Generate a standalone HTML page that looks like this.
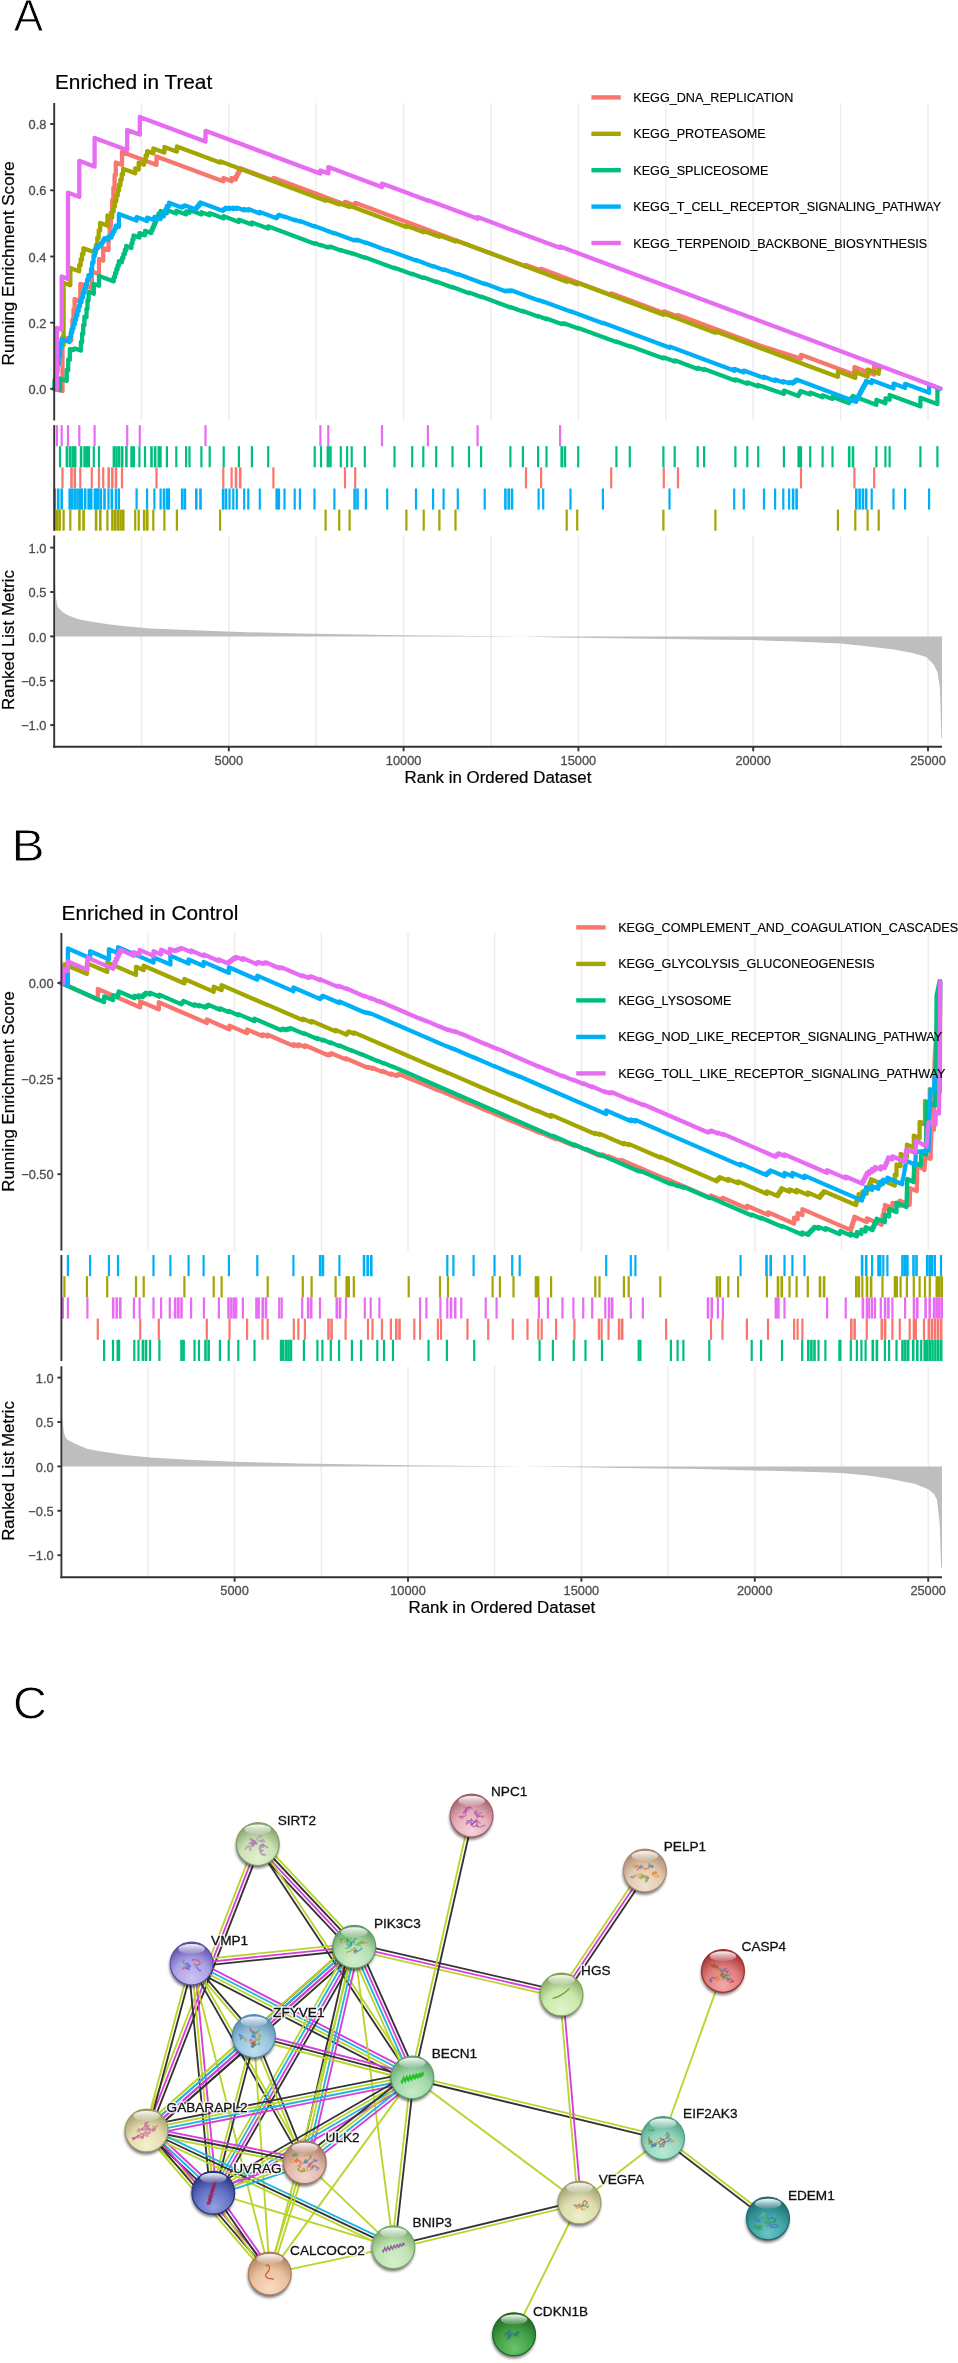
<!DOCTYPE html><html><head><meta charset="utf-8"><style>html,body{margin:0;padding:0;background:#fff;width:958px;height:2363px;overflow:hidden}svg{display:block;will-change:transform;filter:blur(0.35px)}</style></head><body><svg width="958" height="2363" viewBox="0 0 958 2363">
<rect width="958" height="2363" fill="#fff"/>
<text x="0" y="0" font-size="44.0" fill="#000" stroke="#fff" stroke-width="0.8" font-family="Liberation Sans, sans-serif" transform="translate(13.7,31.0) scale(1.000,1)">A</text>
<text x="55.0" y="89.3" font-size="20.8" fill="#000" text-anchor="start" font-family="Liberation Sans, sans-serif" stroke="#000" stroke-width="0.2">Enriched in Treat</text>
<line x1="141.4" y1="103.0" x2="141.4" y2="420.5" stroke="#EBEBEB" stroke-width="1.4"/>
<line x1="141.4" y1="535.5" x2="141.4" y2="746.8" stroke="#EBEBEB" stroke-width="1.4"/>
<line x1="228.8" y1="103.0" x2="228.8" y2="420.5" stroke="#EBEBEB" stroke-width="1.4"/>
<line x1="228.8" y1="535.5" x2="228.8" y2="746.8" stroke="#EBEBEB" stroke-width="1.4"/>
<line x1="316.2" y1="103.0" x2="316.2" y2="420.5" stroke="#EBEBEB" stroke-width="1.4"/>
<line x1="316.2" y1="535.5" x2="316.2" y2="746.8" stroke="#EBEBEB" stroke-width="1.4"/>
<line x1="403.6" y1="103.0" x2="403.6" y2="420.5" stroke="#EBEBEB" stroke-width="1.4"/>
<line x1="403.6" y1="535.5" x2="403.6" y2="746.8" stroke="#EBEBEB" stroke-width="1.4"/>
<line x1="491.0" y1="103.0" x2="491.0" y2="420.5" stroke="#EBEBEB" stroke-width="1.4"/>
<line x1="491.0" y1="535.5" x2="491.0" y2="746.8" stroke="#EBEBEB" stroke-width="1.4"/>
<line x1="578.4" y1="103.0" x2="578.4" y2="420.5" stroke="#EBEBEB" stroke-width="1.4"/>
<line x1="578.4" y1="535.5" x2="578.4" y2="746.8" stroke="#EBEBEB" stroke-width="1.4"/>
<line x1="665.8" y1="103.0" x2="665.8" y2="420.5" stroke="#EBEBEB" stroke-width="1.4"/>
<line x1="665.8" y1="535.5" x2="665.8" y2="746.8" stroke="#EBEBEB" stroke-width="1.4"/>
<line x1="753.2" y1="103.0" x2="753.2" y2="420.5" stroke="#EBEBEB" stroke-width="1.4"/>
<line x1="753.2" y1="535.5" x2="753.2" y2="746.8" stroke="#EBEBEB" stroke-width="1.4"/>
<line x1="840.6" y1="103.0" x2="840.6" y2="420.5" stroke="#EBEBEB" stroke-width="1.4"/>
<line x1="840.6" y1="535.5" x2="840.6" y2="746.8" stroke="#EBEBEB" stroke-width="1.4"/>
<line x1="928.0" y1="103.0" x2="928.0" y2="420.5" stroke="#EBEBEB" stroke-width="1.4"/>
<line x1="928.0" y1="535.5" x2="928.0" y2="746.8" stroke="#EBEBEB" stroke-width="1.4"/>
<polygon points="55.3,636.4 55.3,578.7 56.0,597.5 56.9,603.8 58.1,607.6 62.5,612.0 67.5,615.1 75.0,618.1 81.3,619.7 87.6,621.0 93.8,621.9 100.1,623.1 110.0,624.4 125.2,626.3 150.3,628.4 187.9,630.1 225.4,631.4 240.0,632.0 300.0,633.5 403.6,635.2 480.0,636.1 520.0,636.4 560.0,637.4 650.0,638.7 720.0,639.7 753.0,640.1 794.5,641.6 840.5,643.4 869.0,646.6 894.0,649.6 913.8,653.3 926.2,657.1 933.7,664.5 937.4,671.9 939.9,687.0 940.8,716.2 941.3,737.5 942.0,738.4 942.0,636.4" fill="#BEBEBE"/>
<polyline points="54.0,388.8 62.2,391.0 62.5,391.1 62.5,336.9 71.0,340.1 71.3,340.2 71.3,329.6 72.4,330.0 72.4,319.4 73.5,319.8 73.5,309.2 74.6,309.6 74.6,299.0 80.0,301.0 80.3,301.1 80.3,283.8 91.5,288.0 91.8,288.1 91.8,271.4 98.7,274.0 99.0,274.1 99.0,259.0 102.9,260.5 103.2,260.6 103.2,248.1 108.2,250.0 108.5,250.1 108.5,237.2 109.7,237.7 109.7,224.8 110.9,225.2 110.9,212.3 112.2,212.8 112.2,199.9 113.4,200.3 113.4,187.4 114.6,187.9 114.6,175.0 115.8,175.4 115.8,162.5 121.7,164.7 122.0,164.8 122.0,152.0 156.2,164.8 156.5,164.9 156.5,156.4 223.0,181.2 223.3,181.3 223.3,178.1 231.6,181.2 231.6,177.9 235.8,179.5 235.8,176.3 237.2,176.8 237.2,173.6 238.6,174.1 238.6,170.8 240.0,171.4 240.0,168.1 241.0,168.5 270.0,179.3 273.4,180.6 273.4,177.8 345.0,204.5 345.0,201.8 355.2,205.6 355.2,202.8 520.0,264.3 526.0,266.5 526.0,264.9 541.1,270.5 541.1,268.8 611.2,295.0 611.2,293.3 663.8,312.9 663.8,311.3 678.0,316.6 678.0,314.9 760.0,345.5 800.7,358.5 801.0,358.6 801.0,354.8 854.0,374.6 854.4,374.7 854.4,367.1 874.0,374.4 874.2,374.5 874.2,366.0 876.5,366.9" fill="none" stroke="#F8766D" stroke-width="4.3" stroke-linejoin="round" stroke-linecap="round"/>
<polyline points="54.0,388.8 54.3,389.0 54.6,389.1 54.6,379.6 55.8,380.1 55.8,370.6 57.0,371.0 57.0,361.5 58.2,362.0 58.2,352.5 59.4,352.9 59.4,343.4 61.0,344.0 63.6,345.0 63.6,282.8 69.5,285.0 70.3,285.3 70.3,267.9 78.5,271.0 79.2,271.3 79.2,265.1 80.6,265.6 80.6,259.5 82.0,260.0 82.0,253.8 83.4,254.3 83.4,248.2 95.0,252.5 95.9,252.8 95.9,245.0 97.3,245.5 97.3,237.6 98.7,238.1 98.7,230.3 100.1,230.8 100.1,222.9 106.5,225.3 107.4,225.6 107.4,215.5 111.5,217.0 112.2,217.3 112.2,211.4 113.6,211.9 113.6,206.1 114.9,206.6 114.9,200.8 116.3,201.3 116.3,195.4 117.7,195.9 117.7,190.1 119.0,190.6 119.0,184.7 120.4,185.3 120.4,179.4 121.7,179.9 121.7,174.1 123.1,174.6 123.1,168.7 134.5,173.0 135.2,173.3 135.2,168.3 138.3,169.5 138.7,169.6 138.7,162.7 143.5,164.5 144.0,164.7 144.0,159.8 145.6,160.3 145.6,155.4 147.1,156.0 147.1,151.1 152.8,153.2 153.3,153.4 153.3,148.5 164.0,152.5 164.4,152.6 164.4,147.0 176.5,151.5 176.9,151.6 176.9,146.5 219.8,162.5 220.1,162.6 220.1,161.3 325.6,200.7 325.6,199.4 339.2,204.5 339.2,203.2 349.6,207.1 349.6,205.8 406.4,227.0 406.4,225.7 423.7,232.2 423.7,230.9 439.4,236.8 439.4,235.5 455.5,241.5 455.5,240.2 520.0,264.3 566.7,281.7 566.7,280.2 577.2,284.2 577.2,282.7 663.4,314.8 663.4,313.3 715.4,332.7 715.4,331.3 760.0,347.9 837.5,376.7 837.9,376.8 837.9,371.3 855.0,377.7 855.3,377.8 855.3,372.1 867.3,376.6 867.6,376.7 867.6,369.6 878.4,373.6 878.7,373.7 878.7,369.2 879.5,369.5" fill="none" stroke="#A3A500" stroke-width="4.3" stroke-linejoin="round" stroke-linecap="round"/>
<polyline points="54.0,388.8 59.7,390.0 60.0,390.1 60.0,378.4 66.4,380.8 66.7,380.9 66.7,369.9 68.2,370.5 68.2,359.5 69.8,360.1 69.8,349.1 72.2,350.0 72.5,350.1 72.5,349.2 73.8,349.7 73.8,348.8 75.0,349.3 75.0,348.4 80.6,350.5 80.9,350.6 80.9,341.8 82.1,342.2 82.1,333.4 83.2,333.9 83.2,325.0 84.4,325.5 84.4,316.7 86.5,317.4 86.5,308.6 87.5,309.0 87.5,300.2 88.6,300.6 88.6,291.8 93.5,293.6 93.8,293.7 93.8,283.9 99.0,285.8 99.0,275.9 113.4,281.3 113.7,281.4 113.7,277.0 115.0,277.4 115.0,273.0 116.3,273.5 116.3,269.0 117.6,269.5 117.6,265.1 118.9,265.5 118.9,261.1 122.0,262.2 122.0,257.8 123.4,258.3 123.4,253.9 124.8,254.4 124.8,249.9 126.2,250.5 126.2,246.0 131.4,247.9 131.4,243.5 132.4,243.9 132.4,239.4 133.5,239.8 133.5,235.4 139.4,237.6 139.4,233.1 145.0,235.2 145.0,230.8 151.0,233.0 151.3,233.1 151.3,229.9 152.5,230.4 152.5,227.2 153.7,227.6 153.7,224.4 154.9,224.9 154.9,221.6 156.2,222.1 156.2,218.9 157.4,219.4 157.4,216.1 158.6,216.6 158.6,213.4 160.6,214.1 160.6,210.9 166.9,213.3 166.9,210.1 167.5,210.3 176.3,213.6 176.3,210.7 186.1,214.4 186.1,211.5 189.5,212.8 189.5,210.0 190.4,210.3 201.4,214.4 201.4,212.2 209.7,215.3 209.7,213.2 215.4,215.3 223.7,218.4 223.7,216.2 238.9,221.9 238.9,219.7 251.9,224.6 251.9,222.4 268.2,228.5 268.2,226.3 270.0,227.0 314.7,243.7 314.7,243.1 321.0,245.4 321.0,244.9 327.7,247.4 327.7,246.8 328.9,247.3 328.9,246.7 330.2,247.2 330.2,246.6 340.8,250.5 340.8,250.0 347.1,252.3 347.1,251.7 351.7,253.5 351.7,252.9 364.8,257.8 364.8,257.2 394.5,268.3 394.5,267.7 412.2,274.3 412.2,273.7 423.3,277.9 423.3,277.3 436.2,282.1 436.2,281.5 452.5,287.6 452.5,287.0 469.0,293.2 469.0,292.6 481.1,297.1 481.1,296.6 510.4,307.5 510.4,306.9 520.0,310.5 522.9,311.6 522.9,311.0 538.1,316.6 538.1,316.0 546.5,319.2 546.5,318.5 561.5,324.1 561.5,323.5 563.1,324.1 563.1,323.5 564.7,324.1 564.7,323.5 578.2,328.5 578.2,327.9 616.4,342.1 616.4,341.5 629.8,346.5 629.8,345.9 663.0,358.3 663.4,358.4 663.4,357.3 674.7,361.5 674.7,360.3 697.7,368.9 697.7,367.8 704.1,370.1 704.1,369.0 735.0,380.5 735.4,380.6 735.4,379.3 747.3,383.7 747.3,382.3 758.2,386.4 758.2,385.0 760.0,385.7 783.5,393.8 783.9,393.9 783.9,390.6 798.3,396.0 798.5,396.1 798.5,394.1 799.5,394.5 799.5,392.5 800.6,392.9 800.6,391.0 810.2,394.5 810.2,392.6 822.6,397.2 822.6,395.2 832.5,398.9 832.5,397.0 848.7,403.0 849.0,403.1 849.0,401.0 850.3,401.4 850.3,399.3 851.5,399.8 851.5,397.6 852.8,398.1 852.8,396.0 876.2,404.7 876.4,404.8 876.4,399.8 885.4,403.2 885.4,398.3 889.6,399.8 889.6,394.9 920.2,406.3 920.4,406.4 920.4,397.7 937.2,404.0 937.4,404.1 937.4,388.9 939.0,389.5" fill="none" stroke="#00BF7D" stroke-width="4.3" stroke-linejoin="round" stroke-linecap="round"/>
<polyline points="54.0,388.8 54.3,389.0 54.6,389.1 54.6,380.3 56.0,380.9 56.0,372.1 57.4,372.6 57.4,363.8 58.7,364.3 58.7,355.6 60.1,356.1 60.1,347.3 61.5,347.8 61.5,339.0 69.2,341.9 69.5,342.0 69.5,337.1 70.8,337.6 70.8,332.6 72.1,333.1 72.1,328.2 73.4,328.7 73.4,323.8 74.8,324.2 74.8,319.3 76.1,319.8 76.1,314.9 77.4,315.4 77.4,310.4 78.7,310.9 78.7,306.0 80.0,306.5 80.0,301.5 81.5,302.1 81.5,297.2 82.9,297.7 82.9,292.8 84.3,293.3 84.3,288.4 85.7,288.9 85.7,283.9 87.1,284.5 87.1,279.5 88.5,280.1 88.5,275.1 89.5,275.5 91.0,276.1 91.0,269.0 92.2,269.4 92.2,262.3 93.5,262.8 93.5,255.7 94.7,256.2 94.7,249.1 95.8,249.5 96.4,249.7 96.4,247.3 98.0,247.9 98.0,245.5 100.6,246.4 100.6,244.0 101.8,244.5 101.8,242.1 103.1,242.5 103.1,240.1 104.3,240.6 104.3,238.1 108.2,239.6 108.5,239.7 108.5,236.3 111.6,237.5 111.6,234.1 113.0,234.6 113.0,231.3 114.4,231.8 114.4,228.4 115.8,228.9 115.8,225.6 118.6,226.6 118.9,226.7 118.9,214.0 136.3,220.5 136.6,220.6 136.6,217.1 147.1,221.0 147.1,217.6 154.4,220.3 154.4,216.8 160.3,219.0 160.6,219.1 160.6,215.2 163.8,216.4 163.8,212.5 165.4,213.1 165.4,209.1 166.9,209.7 166.9,205.8 169.0,206.6 169.0,202.7 181.7,207.4 182.0,207.5 182.0,206.4 183.3,206.9 183.3,205.8 184.7,206.3 184.7,205.3 195.8,209.4 196.1,209.5 196.1,207.3 197.5,207.9 197.5,205.7 198.9,206.2 198.9,204.0 200.3,204.6 200.3,202.4 222.6,210.7 222.9,210.8 222.9,209.4 224.4,210.0 224.4,208.6 225.8,209.1 225.8,207.7 229.5,209.1 229.5,207.7 233.3,209.1 233.3,207.7 236.8,209.0 236.8,207.6 244.2,210.4 244.2,209.0 248.3,210.5 248.3,209.1 259.8,213.4 259.8,212.0 276.5,218.2 276.5,216.8 277.6,217.2 277.6,215.8 278.6,216.2 278.6,214.8 280.0,215.3 284.5,217.0 284.5,216.4 294.7,220.2 294.7,219.7 299.9,221.6 299.9,221.1 314.5,226.6 314.5,226.0 334.4,233.4 334.4,232.9 354.4,240.4 354.4,239.8 355.9,240.4 355.9,239.8 357.3,240.4 357.3,239.8 365.9,243.0 365.9,242.5 387.2,250.4 387.2,249.9 416.0,260.6 416.0,260.1 433.1,266.5 433.1,265.9 443.6,269.9 443.6,269.3 457.8,274.6 457.8,274.1 484.7,284.1 484.7,283.6 505.2,291.2 505.2,290.7 506.5,291.2 506.5,290.6 507.8,291.1 507.8,290.6 509.2,291.1 509.2,290.5 510.5,291.0 510.5,290.5 511.8,291.0 511.8,290.4 520.0,293.5 538.6,300.4 538.6,300.0 543.2,301.8 543.2,301.4 570.5,311.5 570.5,311.2 602.9,323.2 602.9,322.8 666.6,346.6 669.5,347.7 669.5,346.6 733.9,370.6 734.2,370.7 734.2,368.8 743.8,372.4 743.8,370.6 760.0,376.6 764.0,378.1 764.0,376.7 775.1,380.9 775.1,379.5 783.3,382.5 783.3,381.2 785.5,382.0 789.1,383.3 789.1,382.1 792.9,383.5 792.9,382.2 794.1,382.6 794.1,381.3 795.2,381.8 795.2,380.5 796.4,380.9 796.4,379.6 855.8,401.8 856.1,401.9 856.1,399.2 857.3,399.6 857.3,396.9 858.6,397.4 858.6,394.6 859.8,395.1 859.8,392.4 861.0,392.8 861.0,390.1 862.3,390.5 862.3,387.8 863.5,388.3 863.5,385.5 864.8,386.0 864.8,383.3 866.0,383.7 866.0,381.0 871.4,383.0 871.7,383.1 871.7,380.2 893.2,388.2 893.5,388.3 893.5,383.6 904.8,387.8 905.1,387.9 905.1,383.8 928.8,392.6 929.1,392.7 929.1,384.5 940.5,388.8" fill="none" stroke="#00B0F6" stroke-width="4.3" stroke-linejoin="round" stroke-linecap="round"/>
<polyline points="54.0,388.8 56.5,389.5 56.9,389.6 56.9,327.9 61.3,329.5 61.7,329.6 61.7,276.5 67.5,278.7 68.0,278.9 68.0,192.7 79.0,196.8 79.3,196.9 79.3,160.8 94.2,166.4 94.6,166.5 94.6,137.9 127.0,150.0 127.2,150.1 127.2,129.9 139.6,134.5 139.8,134.6 139.8,117.0 205.3,141.4 205.5,141.5 205.5,130.8 320.0,173.5 320.4,173.6 320.4,170.4 328.0,173.2 328.3,173.3 328.3,167.1 381.7,187.0 382.0,187.1 382.0,183.6 427.6,200.6 427.9,200.7 427.9,200.2 477.3,218.6 477.6,218.7 477.6,217.1 559.8,247.8 560.1,247.9 560.1,246.5 940.5,388.4" fill="none" stroke="#E76BF3" stroke-width="4.3" stroke-linejoin="round" stroke-linecap="round"/>
<rect x="55.8" y="425.1" width="2.2" height="21.1" fill="#E76BF3"/>
<rect x="60.6" y="425.1" width="2.2" height="21.1" fill="#E76BF3"/>
<rect x="66.9" y="425.1" width="2.2" height="21.1" fill="#E76BF3"/>
<rect x="78.2" y="425.1" width="2.2" height="21.1" fill="#E76BF3"/>
<rect x="93.5" y="425.1" width="2.2" height="21.1" fill="#E76BF3"/>
<rect x="126.1" y="425.1" width="2.2" height="21.1" fill="#E76BF3"/>
<rect x="138.7" y="425.1" width="2.2" height="21.1" fill="#E76BF3"/>
<rect x="204.4" y="425.1" width="2.2" height="21.1" fill="#E76BF3"/>
<rect x="319.3" y="425.1" width="2.2" height="21.1" fill="#E76BF3"/>
<rect x="327.2" y="425.1" width="2.2" height="21.1" fill="#E76BF3"/>
<rect x="380.9" y="425.1" width="2.2" height="21.1" fill="#E76BF3"/>
<rect x="426.8" y="425.1" width="2.2" height="21.1" fill="#E76BF3"/>
<rect x="476.5" y="425.1" width="2.2" height="21.1" fill="#E76BF3"/>
<rect x="559.0" y="425.1" width="2.2" height="21.1" fill="#E76BF3"/>
<rect x="58.9" y="446.2" width="2.2" height="21.1" fill="#00BF7D"/>
<rect x="65.60" y="446.2" width="2.6" height="21.1" fill="#00BF7D"/>
<rect x="68.70" y="446.2" width="2.6" height="21.1" fill="#00BF7D"/>
<rect x="71.40" y="446.2" width="2.6" height="21.1" fill="#00BF7D"/>
<rect x="73.90" y="446.2" width="2.6" height="21.1" fill="#00BF7D"/>
<rect x="79.80" y="446.2" width="2.6" height="21.1" fill="#00BF7D"/>
<rect x="83.30" y="446.2" width="2.6" height="21.1" fill="#00BF7D"/>
<rect x="85.40" y="446.2" width="2.6" height="21.1" fill="#00BF7D"/>
<rect x="87.50" y="446.2" width="2.6" height="21.1" fill="#00BF7D"/>
<rect x="92.7" y="446.2" width="2.2" height="21.1" fill="#00BF7D"/>
<rect x="97.9" y="446.2" width="2.2" height="21.1" fill="#00BF7D"/>
<rect x="112.60" y="446.2" width="2.6" height="21.1" fill="#00BF7D"/>
<rect x="115.20" y="446.2" width="2.6" height="21.1" fill="#00BF7D"/>
<rect x="117.80" y="446.2" width="2.6" height="21.1" fill="#00BF7D"/>
<rect x="120.90" y="446.2" width="2.6" height="21.1" fill="#00BF7D"/>
<rect x="125.10" y="446.2" width="2.6" height="21.1" fill="#00BF7D"/>
<rect x="130.30" y="446.2" width="2.6" height="21.1" fill="#00BF7D"/>
<rect x="132.40" y="446.2" width="2.6" height="21.1" fill="#00BF7D"/>
<rect x="138.3" y="446.2" width="2.2" height="21.1" fill="#00BF7D"/>
<rect x="143.9" y="446.2" width="2.2" height="21.1" fill="#00BF7D"/>
<rect x="150.20" y="446.2" width="2.6" height="21.1" fill="#00BF7D"/>
<rect x="153.85" y="446.2" width="2.6" height="21.1" fill="#00BF7D"/>
<rect x="157.50" y="446.2" width="2.6" height="21.1" fill="#00BF7D"/>
<rect x="159.5" y="446.2" width="2.2" height="21.1" fill="#00BF7D"/>
<rect x="165.8" y="446.2" width="2.2" height="21.1" fill="#00BF7D"/>
<rect x="175.2" y="446.2" width="2.2" height="21.1" fill="#00BF7D"/>
<rect x="185.0" y="446.2" width="2.2" height="21.1" fill="#00BF7D"/>
<rect x="188.4" y="446.2" width="2.2" height="21.1" fill="#00BF7D"/>
<rect x="200.3" y="446.2" width="2.2" height="21.1" fill="#00BF7D"/>
<rect x="208.6" y="446.2" width="2.2" height="21.1" fill="#00BF7D"/>
<rect x="222.6" y="446.2" width="2.2" height="21.1" fill="#00BF7D"/>
<rect x="237.8" y="446.2" width="2.2" height="21.1" fill="#00BF7D"/>
<rect x="250.8" y="446.2" width="2.2" height="21.1" fill="#00BF7D"/>
<rect x="267.1" y="446.2" width="2.2" height="21.1" fill="#00BF7D"/>
<rect x="313.6" y="446.2" width="2.2" height="21.1" fill="#00BF7D"/>
<rect x="319.9" y="446.2" width="2.2" height="21.1" fill="#00BF7D"/>
<rect x="326.60" y="446.2" width="2.6" height="21.1" fill="#00BF7D"/>
<rect x="329.10" y="446.2" width="2.6" height="21.1" fill="#00BF7D"/>
<rect x="339.7" y="446.2" width="2.2" height="21.1" fill="#00BF7D"/>
<rect x="346.0" y="446.2" width="2.2" height="21.1" fill="#00BF7D"/>
<rect x="350.6" y="446.2" width="2.2" height="21.1" fill="#00BF7D"/>
<rect x="363.7" y="446.2" width="2.2" height="21.1" fill="#00BF7D"/>
<rect x="393.4" y="446.2" width="2.2" height="21.1" fill="#00BF7D"/>
<rect x="411.1" y="446.2" width="2.2" height="21.1" fill="#00BF7D"/>
<rect x="422.2" y="446.2" width="2.2" height="21.1" fill="#00BF7D"/>
<rect x="435.1" y="446.2" width="2.2" height="21.1" fill="#00BF7D"/>
<rect x="451.4" y="446.2" width="2.2" height="21.1" fill="#00BF7D"/>
<rect x="467.9" y="446.2" width="2.2" height="21.1" fill="#00BF7D"/>
<rect x="480.0" y="446.2" width="2.2" height="21.1" fill="#00BF7D"/>
<rect x="509.3" y="446.2" width="2.2" height="21.1" fill="#00BF7D"/>
<rect x="521.8" y="446.2" width="2.2" height="21.1" fill="#00BF7D"/>
<rect x="537.0" y="446.2" width="2.2" height="21.1" fill="#00BF7D"/>
<rect x="545.4" y="446.2" width="2.2" height="21.1" fill="#00BF7D"/>
<rect x="560.40" y="446.2" width="2.6" height="21.1" fill="#00BF7D"/>
<rect x="563.60" y="446.2" width="2.6" height="21.1" fill="#00BF7D"/>
<rect x="577.1" y="446.2" width="2.2" height="21.1" fill="#00BF7D"/>
<rect x="615.3" y="446.2" width="2.2" height="21.1" fill="#00BF7D"/>
<rect x="628.7" y="446.2" width="2.2" height="21.1" fill="#00BF7D"/>
<rect x="662.3" y="446.2" width="2.2" height="21.1" fill="#00BF7D"/>
<rect x="673.6" y="446.2" width="2.2" height="21.1" fill="#00BF7D"/>
<rect x="696.6" y="446.2" width="2.2" height="21.1" fill="#00BF7D"/>
<rect x="703.0" y="446.2" width="2.2" height="21.1" fill="#00BF7D"/>
<rect x="734.3" y="446.2" width="2.2" height="21.1" fill="#00BF7D"/>
<rect x="746.2" y="446.2" width="2.2" height="21.1" fill="#00BF7D"/>
<rect x="757.1" y="446.2" width="2.2" height="21.1" fill="#00BF7D"/>
<rect x="782.8" y="446.2" width="2.2" height="21.1" fill="#00BF7D"/>
<rect x="797.40" y="446.2" width="2.6" height="21.1" fill="#00BF7D"/>
<rect x="799.50" y="446.2" width="2.6" height="21.1" fill="#00BF7D"/>
<rect x="809.1" y="446.2" width="2.2" height="21.1" fill="#00BF7D"/>
<rect x="821.5" y="446.2" width="2.2" height="21.1" fill="#00BF7D"/>
<rect x="831.4" y="446.2" width="2.2" height="21.1" fill="#00BF7D"/>
<rect x="847.90" y="446.2" width="2.6" height="21.1" fill="#00BF7D"/>
<rect x="851.70" y="446.2" width="2.6" height="21.1" fill="#00BF7D"/>
<rect x="875.3" y="446.2" width="2.2" height="21.1" fill="#00BF7D"/>
<rect x="884.3" y="446.2" width="2.2" height="21.1" fill="#00BF7D"/>
<rect x="888.5" y="446.2" width="2.2" height="21.1" fill="#00BF7D"/>
<rect x="919.3" y="446.2" width="2.2" height="21.1" fill="#00BF7D"/>
<rect x="936.3" y="446.2" width="2.2" height="21.1" fill="#00BF7D"/>
<rect x="61.4" y="467.3" width="2.2" height="21.1" fill="#F8766D"/>
<rect x="70.20" y="467.3" width="2.6" height="21.1" fill="#F8766D"/>
<rect x="73.50" y="467.3" width="2.6" height="21.1" fill="#F8766D"/>
<rect x="79.2" y="467.3" width="2.2" height="21.1" fill="#F8766D"/>
<rect x="90.7" y="467.3" width="2.2" height="21.1" fill="#F8766D"/>
<rect x="97.9" y="467.3" width="2.2" height="21.1" fill="#F8766D"/>
<rect x="102.1" y="467.3" width="2.2" height="21.1" fill="#F8766D"/>
<rect x="107.40" y="467.3" width="2.6" height="21.1" fill="#F8766D"/>
<rect x="111.05" y="467.3" width="2.6" height="21.1" fill="#F8766D"/>
<rect x="114.70" y="467.3" width="2.6" height="21.1" fill="#F8766D"/>
<rect x="120.9" y="467.3" width="2.2" height="21.1" fill="#F8766D"/>
<rect x="155.4" y="467.3" width="2.2" height="21.1" fill="#F8766D"/>
<rect x="222.2" y="467.3" width="2.2" height="21.1" fill="#F8766D"/>
<rect x="230.5" y="467.3" width="2.2" height="21.1" fill="#F8766D"/>
<rect x="234.70" y="467.3" width="2.6" height="21.1" fill="#F8766D"/>
<rect x="238.90" y="467.3" width="2.6" height="21.1" fill="#F8766D"/>
<rect x="272.3" y="467.3" width="2.2" height="21.1" fill="#F8766D"/>
<rect x="343.9" y="467.3" width="2.2" height="21.1" fill="#F8766D"/>
<rect x="354.1" y="467.3" width="2.2" height="21.1" fill="#F8766D"/>
<rect x="524.9" y="467.3" width="2.2" height="21.1" fill="#F8766D"/>
<rect x="540.0" y="467.3" width="2.2" height="21.1" fill="#F8766D"/>
<rect x="610.1" y="467.3" width="2.2" height="21.1" fill="#F8766D"/>
<rect x="662.7" y="467.3" width="2.2" height="21.1" fill="#F8766D"/>
<rect x="676.9" y="467.3" width="2.2" height="21.1" fill="#F8766D"/>
<rect x="799.9" y="467.3" width="2.2" height="21.1" fill="#F8766D"/>
<rect x="853.3" y="467.3" width="2.2" height="21.1" fill="#F8766D"/>
<rect x="873.1" y="467.3" width="2.2" height="21.1" fill="#F8766D"/>
<rect x="53.50" y="488.5" width="2.6" height="21.1" fill="#00B0F6"/>
<rect x="56.95" y="488.5" width="2.6" height="21.1" fill="#00B0F6"/>
<rect x="60.40" y="488.5" width="2.6" height="21.1" fill="#00B0F6"/>
<rect x="68.40" y="488.5" width="2.6" height="21.1" fill="#00B0F6"/>
<rect x="71.03" y="488.5" width="2.6" height="21.1" fill="#00B0F6"/>
<rect x="73.65" y="488.5" width="2.6" height="21.1" fill="#00B0F6"/>
<rect x="76.28" y="488.5" width="2.6" height="21.1" fill="#00B0F6"/>
<rect x="78.90" y="488.5" width="2.6" height="21.1" fill="#00B0F6"/>
<rect x="80.40" y="488.5" width="2.6" height="21.1" fill="#00B0F6"/>
<rect x="83.90" y="488.5" width="2.6" height="21.1" fill="#00B0F6"/>
<rect x="87.40" y="488.5" width="2.6" height="21.1" fill="#00B0F6"/>
<rect x="89.90" y="488.5" width="2.6" height="21.1" fill="#00B0F6"/>
<rect x="93.60" y="488.5" width="2.6" height="21.1" fill="#00B0F6"/>
<rect x="95.30" y="488.5" width="2.6" height="21.1" fill="#00B0F6"/>
<rect x="96.90" y="488.5" width="2.6" height="21.1" fill="#00B0F6"/>
<rect x="99.50" y="488.5" width="2.6" height="21.1" fill="#00B0F6"/>
<rect x="103.20" y="488.5" width="2.6" height="21.1" fill="#00B0F6"/>
<rect x="107.4" y="488.5" width="2.2" height="21.1" fill="#00B0F6"/>
<rect x="110.50" y="488.5" width="2.6" height="21.1" fill="#00B0F6"/>
<rect x="114.70" y="488.5" width="2.6" height="21.1" fill="#00B0F6"/>
<rect x="117.8" y="488.5" width="2.2" height="21.1" fill="#00B0F6"/>
<rect x="135.5" y="488.5" width="2.2" height="21.1" fill="#00B0F6"/>
<rect x="146.0" y="488.5" width="2.2" height="21.1" fill="#00B0F6"/>
<rect x="153.3" y="488.5" width="2.2" height="21.1" fill="#00B0F6"/>
<rect x="159.5" y="488.5" width="2.2" height="21.1" fill="#00B0F6"/>
<rect x="162.70" y="488.5" width="2.6" height="21.1" fill="#00B0F6"/>
<rect x="165.80" y="488.5" width="2.6" height="21.1" fill="#00B0F6"/>
<rect x="167.9" y="488.5" width="2.2" height="21.1" fill="#00B0F6"/>
<rect x="180.90" y="488.5" width="2.6" height="21.1" fill="#00B0F6"/>
<rect x="183.60" y="488.5" width="2.6" height="21.1" fill="#00B0F6"/>
<rect x="195.00" y="488.5" width="2.6" height="21.1" fill="#00B0F6"/>
<rect x="199.20" y="488.5" width="2.6" height="21.1" fill="#00B0F6"/>
<rect x="221.80" y="488.5" width="2.6" height="21.1" fill="#00B0F6"/>
<rect x="224.70" y="488.5" width="2.6" height="21.1" fill="#00B0F6"/>
<rect x="228.4" y="488.5" width="2.2" height="21.1" fill="#00B0F6"/>
<rect x="232.2" y="488.5" width="2.2" height="21.1" fill="#00B0F6"/>
<rect x="235.7" y="488.5" width="2.2" height="21.1" fill="#00B0F6"/>
<rect x="243.1" y="488.5" width="2.2" height="21.1" fill="#00B0F6"/>
<rect x="247.2" y="488.5" width="2.2" height="21.1" fill="#00B0F6"/>
<rect x="258.7" y="488.5" width="2.2" height="21.1" fill="#00B0F6"/>
<rect x="275.40" y="488.5" width="2.6" height="21.1" fill="#00B0F6"/>
<rect x="277.50" y="488.5" width="2.6" height="21.1" fill="#00B0F6"/>
<rect x="283.4" y="488.5" width="2.2" height="21.1" fill="#00B0F6"/>
<rect x="293.6" y="488.5" width="2.2" height="21.1" fill="#00B0F6"/>
<rect x="298.8" y="488.5" width="2.2" height="21.1" fill="#00B0F6"/>
<rect x="313.4" y="488.5" width="2.2" height="21.1" fill="#00B0F6"/>
<rect x="333.3" y="488.5" width="2.2" height="21.1" fill="#00B0F6"/>
<rect x="353.30" y="488.5" width="2.6" height="21.1" fill="#00B0F6"/>
<rect x="356.20" y="488.5" width="2.6" height="21.1" fill="#00B0F6"/>
<rect x="364.8" y="488.5" width="2.2" height="21.1" fill="#00B0F6"/>
<rect x="386.1" y="488.5" width="2.2" height="21.1" fill="#00B0F6"/>
<rect x="414.9" y="488.5" width="2.2" height="21.1" fill="#00B0F6"/>
<rect x="432.0" y="488.5" width="2.2" height="21.1" fill="#00B0F6"/>
<rect x="442.5" y="488.5" width="2.2" height="21.1" fill="#00B0F6"/>
<rect x="456.7" y="488.5" width="2.2" height="21.1" fill="#00B0F6"/>
<rect x="483.6" y="488.5" width="2.2" height="21.1" fill="#00B0F6"/>
<rect x="504.10" y="488.5" width="2.6" height="21.1" fill="#00B0F6"/>
<rect x="507.40" y="488.5" width="2.6" height="21.1" fill="#00B0F6"/>
<rect x="510.70" y="488.5" width="2.6" height="21.1" fill="#00B0F6"/>
<rect x="537.5" y="488.5" width="2.2" height="21.1" fill="#00B0F6"/>
<rect x="542.1" y="488.5" width="2.2" height="21.1" fill="#00B0F6"/>
<rect x="569.4" y="488.5" width="2.2" height="21.1" fill="#00B0F6"/>
<rect x="601.8" y="488.5" width="2.2" height="21.1" fill="#00B0F6"/>
<rect x="668.4" y="488.5" width="2.2" height="21.1" fill="#00B0F6"/>
<rect x="733.1" y="488.5" width="2.2" height="21.1" fill="#00B0F6"/>
<rect x="742.7" y="488.5" width="2.2" height="21.1" fill="#00B0F6"/>
<rect x="762.9" y="488.5" width="2.2" height="21.1" fill="#00B0F6"/>
<rect x="774.0" y="488.5" width="2.2" height="21.1" fill="#00B0F6"/>
<rect x="782.2" y="488.5" width="2.2" height="21.1" fill="#00B0F6"/>
<rect x="788.0" y="488.5" width="2.2" height="21.1" fill="#00B0F6"/>
<rect x="791.80" y="488.5" width="2.6" height="21.1" fill="#00B0F6"/>
<rect x="795.30" y="488.5" width="2.6" height="21.1" fill="#00B0F6"/>
<rect x="855.00" y="488.5" width="2.6" height="21.1" fill="#00B0F6"/>
<rect x="858.30" y="488.5" width="2.6" height="21.1" fill="#00B0F6"/>
<rect x="861.60" y="488.5" width="2.6" height="21.1" fill="#00B0F6"/>
<rect x="864.90" y="488.5" width="2.6" height="21.1" fill="#00B0F6"/>
<rect x="870.6" y="488.5" width="2.2" height="21.1" fill="#00B0F6"/>
<rect x="892.4" y="488.5" width="2.2" height="21.1" fill="#00B0F6"/>
<rect x="904.0" y="488.5" width="2.2" height="21.1" fill="#00B0F6"/>
<rect x="928.0" y="488.5" width="2.2" height="21.1" fill="#00B0F6"/>
<rect x="53.50" y="509.6" width="2.6" height="21.1" fill="#A3A500"/>
<rect x="55.90" y="509.6" width="2.6" height="21.1" fill="#A3A500"/>
<rect x="58.30" y="509.6" width="2.6" height="21.1" fill="#A3A500"/>
<rect x="62.5" y="509.6" width="2.2" height="21.1" fill="#A3A500"/>
<rect x="69.2" y="509.6" width="2.2" height="21.1" fill="#A3A500"/>
<rect x="78.10" y="509.6" width="2.6" height="21.1" fill="#A3A500"/>
<rect x="82.30" y="509.6" width="2.6" height="21.1" fill="#A3A500"/>
<rect x="94.80" y="509.6" width="2.6" height="21.1" fill="#A3A500"/>
<rect x="99.00" y="509.6" width="2.6" height="21.1" fill="#A3A500"/>
<rect x="106.3" y="509.6" width="2.2" height="21.1" fill="#A3A500"/>
<rect x="111.10" y="509.6" width="2.6" height="21.1" fill="#A3A500"/>
<rect x="113.83" y="509.6" width="2.6" height="21.1" fill="#A3A500"/>
<rect x="116.55" y="509.6" width="2.6" height="21.1" fill="#A3A500"/>
<rect x="119.28" y="509.6" width="2.6" height="21.1" fill="#A3A500"/>
<rect x="122.00" y="509.6" width="2.6" height="21.1" fill="#A3A500"/>
<rect x="134.1" y="509.6" width="2.2" height="21.1" fill="#A3A500"/>
<rect x="137.6" y="509.6" width="2.2" height="21.1" fill="#A3A500"/>
<rect x="142.90" y="509.6" width="2.6" height="21.1" fill="#A3A500"/>
<rect x="146.00" y="509.6" width="2.6" height="21.1" fill="#A3A500"/>
<rect x="152.2" y="509.6" width="2.2" height="21.1" fill="#A3A500"/>
<rect x="163.3" y="509.6" width="2.2" height="21.1" fill="#A3A500"/>
<rect x="175.8" y="509.6" width="2.2" height="21.1" fill="#A3A500"/>
<rect x="219.0" y="509.6" width="2.2" height="21.1" fill="#A3A500"/>
<rect x="324.5" y="509.6" width="2.2" height="21.1" fill="#A3A500"/>
<rect x="338.1" y="509.6" width="2.2" height="21.1" fill="#A3A500"/>
<rect x="348.5" y="509.6" width="2.2" height="21.1" fill="#A3A500"/>
<rect x="405.3" y="509.6" width="2.2" height="21.1" fill="#A3A500"/>
<rect x="422.6" y="509.6" width="2.2" height="21.1" fill="#A3A500"/>
<rect x="438.3" y="509.6" width="2.2" height="21.1" fill="#A3A500"/>
<rect x="454.4" y="509.6" width="2.2" height="21.1" fill="#A3A500"/>
<rect x="565.6" y="509.6" width="2.2" height="21.1" fill="#A3A500"/>
<rect x="576.1" y="509.6" width="2.2" height="21.1" fill="#A3A500"/>
<rect x="662.3" y="509.6" width="2.2" height="21.1" fill="#A3A500"/>
<rect x="714.3" y="509.6" width="2.2" height="21.1" fill="#A3A500"/>
<rect x="836.8" y="509.6" width="2.2" height="21.1" fill="#A3A500"/>
<rect x="854.2" y="509.6" width="2.2" height="21.1" fill="#A3A500"/>
<rect x="866.5" y="509.6" width="2.2" height="21.1" fill="#A3A500"/>
<rect x="877.6" y="509.6" width="2.2" height="21.1" fill="#A3A500"/>
<line x1="54.2" y1="103.0" x2="54.2" y2="420.5" stroke="#333" stroke-width="1.9"/>
<line x1="54.2" y1="425.1" x2="54.2" y2="530.7" stroke="#333" stroke-width="1.9"/>
<line x1="54.2" y1="535.5" x2="54.2" y2="747.8" stroke="#333" stroke-width="1.9"/>
<line x1="53.2" y1="746.8" x2="942.0" y2="746.8" stroke="#333" stroke-width="1.9"/>
<line x1="50.2" y1="388.8" x2="54.2" y2="388.8" stroke="#333" stroke-width="1.9"/>
<text x="46.4" y="393.9" font-size="12.8" fill="#4D4D4D" text-anchor="end" font-family="Liberation Sans, sans-serif" stroke="#4D4D4D" stroke-width="0.3">0.0</text>
<line x1="50.2" y1="322.7" x2="54.2" y2="322.7" stroke="#333" stroke-width="1.9"/>
<text x="46.4" y="327.8" font-size="12.8" fill="#4D4D4D" text-anchor="end" font-family="Liberation Sans, sans-serif" stroke="#4D4D4D" stroke-width="0.3">0.2</text>
<line x1="50.2" y1="256.5" x2="54.2" y2="256.5" stroke="#333" stroke-width="1.9"/>
<text x="46.4" y="261.6" font-size="12.8" fill="#4D4D4D" text-anchor="end" font-family="Liberation Sans, sans-serif" stroke="#4D4D4D" stroke-width="0.3">0.4</text>
<line x1="50.2" y1="190.3" x2="54.2" y2="190.3" stroke="#333" stroke-width="1.9"/>
<text x="46.4" y="195.4" font-size="12.8" fill="#4D4D4D" text-anchor="end" font-family="Liberation Sans, sans-serif" stroke="#4D4D4D" stroke-width="0.3">0.6</text>
<line x1="50.2" y1="124.0" x2="54.2" y2="124.0" stroke="#333" stroke-width="1.9"/>
<text x="46.4" y="129.1" font-size="12.8" fill="#4D4D4D" text-anchor="end" font-family="Liberation Sans, sans-serif" stroke="#4D4D4D" stroke-width="0.3">0.8</text>
<line x1="50.2" y1="547.6" x2="54.2" y2="547.6" stroke="#333" stroke-width="1.9"/>
<text x="46.4" y="552.7" font-size="12.8" fill="#4D4D4D" text-anchor="end" font-family="Liberation Sans, sans-serif" stroke="#4D4D4D" stroke-width="0.3">1.0</text>
<line x1="50.2" y1="592.0" x2="54.2" y2="592.0" stroke="#333" stroke-width="1.9"/>
<text x="46.4" y="597.1" font-size="12.8" fill="#4D4D4D" text-anchor="end" font-family="Liberation Sans, sans-serif" stroke="#4D4D4D" stroke-width="0.3">0.5</text>
<line x1="50.2" y1="636.4" x2="54.2" y2="636.4" stroke="#333" stroke-width="1.9"/>
<text x="46.4" y="641.5" font-size="12.8" fill="#4D4D4D" text-anchor="end" font-family="Liberation Sans, sans-serif" stroke="#4D4D4D" stroke-width="0.3">0.0</text>
<line x1="50.2" y1="680.8" x2="54.2" y2="680.8" stroke="#333" stroke-width="1.9"/>
<text x="46.4" y="685.9" font-size="12.8" fill="#4D4D4D" text-anchor="end" font-family="Liberation Sans, sans-serif" stroke="#4D4D4D" stroke-width="0.3">−0.5</text>
<line x1="50.2" y1="725.1" x2="54.2" y2="725.1" stroke="#333" stroke-width="1.9"/>
<text x="46.4" y="730.2" font-size="12.8" fill="#4D4D4D" text-anchor="end" font-family="Liberation Sans, sans-serif" stroke="#4D4D4D" stroke-width="0.3">−1.0</text>
<line x1="228.8" y1="746.8" x2="228.8" y2="751.3" stroke="#333" stroke-width="1.9"/>
<text x="228.8" y="764.6" font-size="12.8" fill="#4D4D4D" text-anchor="middle" font-family="Liberation Sans, sans-serif" stroke="#4D4D4D" stroke-width="0.3">5000</text>
<line x1="403.6" y1="746.8" x2="403.6" y2="751.3" stroke="#333" stroke-width="1.9"/>
<text x="403.6" y="764.6" font-size="12.8" fill="#4D4D4D" text-anchor="middle" font-family="Liberation Sans, sans-serif" stroke="#4D4D4D" stroke-width="0.3">10000</text>
<line x1="578.4" y1="746.8" x2="578.4" y2="751.3" stroke="#333" stroke-width="1.9"/>
<text x="578.4" y="764.6" font-size="12.8" fill="#4D4D4D" text-anchor="middle" font-family="Liberation Sans, sans-serif" stroke="#4D4D4D" stroke-width="0.3">15000</text>
<line x1="753.2" y1="746.8" x2="753.2" y2="751.3" stroke="#333" stroke-width="1.9"/>
<text x="753.2" y="764.6" font-size="12.8" fill="#4D4D4D" text-anchor="middle" font-family="Liberation Sans, sans-serif" stroke="#4D4D4D" stroke-width="0.3">20000</text>
<line x1="928.0" y1="746.8" x2="928.0" y2="751.3" stroke="#333" stroke-width="1.9"/>
<text x="928.0" y="764.6" font-size="12.8" fill="#4D4D4D" text-anchor="middle" font-family="Liberation Sans, sans-serif" stroke="#4D4D4D" stroke-width="0.3">25000</text>
<text x="498.0" y="782.6" font-size="16.9" fill="#000" text-anchor="middle" font-family="Liberation Sans, sans-serif" stroke="#000" stroke-width="0.2">Rank in Ordered Dataset</text>
<text x="0" y="0" font-size="17.1" fill="#000" stroke="#000" stroke-width="0.2" text-anchor="middle" font-family="Liberation Sans, sans-serif" transform="translate(14.0,263.3) rotate(-90)">Running Enrichment Score</text>
<text x="0" y="0" font-size="16.9" fill="#000" stroke="#000" stroke-width="0.2" text-anchor="middle" font-family="Liberation Sans, sans-serif" transform="translate(14.0,640.0) rotate(-90)">Ranked List Metric</text>
<line x1="591.4" y1="97.4" x2="620.8" y2="97.4" stroke="#F8766D" stroke-width="4.4"/>
<text x="633.3" y="101.9" font-size="12.6" fill="#000" text-anchor="start" font-family="Liberation Sans, sans-serif" stroke="#000" stroke-width="0.15">KEGG_DNA_REPLICATION</text>
<line x1="591.4" y1="133.8" x2="620.8" y2="133.8" stroke="#A3A500" stroke-width="4.4"/>
<text x="633.3" y="138.3" font-size="12.6" fill="#000" text-anchor="start" font-family="Liberation Sans, sans-serif" stroke="#000" stroke-width="0.15">KEGG_PROTEASOME</text>
<line x1="591.4" y1="170.2" x2="620.8" y2="170.2" stroke="#00BF7D" stroke-width="4.4"/>
<text x="633.3" y="174.7" font-size="12.6" fill="#000" text-anchor="start" font-family="Liberation Sans, sans-serif" stroke="#000" stroke-width="0.15">KEGG_SPLICEOSOME</text>
<line x1="591.4" y1="206.6" x2="620.8" y2="206.6" stroke="#00B0F6" stroke-width="4.4"/>
<text x="633.3" y="211.1" font-size="12.6" fill="#000" text-anchor="start" font-family="Liberation Sans, sans-serif" stroke="#000" stroke-width="0.15">KEGG_T_CELL_RECEPTOR_SIGNALING_PATHWAY</text>
<line x1="591.4" y1="243.0" x2="620.8" y2="243.0" stroke="#E76BF3" stroke-width="4.4"/>
<text x="633.3" y="247.5" font-size="12.6" fill="#000" text-anchor="start" font-family="Liberation Sans, sans-serif" stroke="#000" stroke-width="0.15">KEGG_TERPENOID_BACKBONE_BIOSYNTHESIS</text>
<text x="0" y="0" font-size="44.0" fill="#000" stroke="#fff" stroke-width="0.8" font-family="Liberation Sans, sans-serif" transform="translate(11.6,861.2) scale(1.130,1)">B</text>
<text x="61.6" y="919.9" font-size="20.8" fill="#000" text-anchor="start" font-family="Liberation Sans, sans-serif" stroke="#000" stroke-width="0.2">Enriched in Control</text>
<line x1="147.9" y1="933.0" x2="147.9" y2="1250.5" stroke="#EBEBEB" stroke-width="1.4"/>
<line x1="147.9" y1="1366.3" x2="147.9" y2="1577.2" stroke="#EBEBEB" stroke-width="1.4"/>
<line x1="234.6" y1="933.0" x2="234.6" y2="1250.5" stroke="#EBEBEB" stroke-width="1.4"/>
<line x1="234.6" y1="1366.3" x2="234.6" y2="1577.2" stroke="#EBEBEB" stroke-width="1.4"/>
<line x1="321.3" y1="933.0" x2="321.3" y2="1250.5" stroke="#EBEBEB" stroke-width="1.4"/>
<line x1="321.3" y1="1366.3" x2="321.3" y2="1577.2" stroke="#EBEBEB" stroke-width="1.4"/>
<line x1="408.0" y1="933.0" x2="408.0" y2="1250.5" stroke="#EBEBEB" stroke-width="1.4"/>
<line x1="408.0" y1="1366.3" x2="408.0" y2="1577.2" stroke="#EBEBEB" stroke-width="1.4"/>
<line x1="494.7" y1="933.0" x2="494.7" y2="1250.5" stroke="#EBEBEB" stroke-width="1.4"/>
<line x1="494.7" y1="1366.3" x2="494.7" y2="1577.2" stroke="#EBEBEB" stroke-width="1.4"/>
<line x1="581.4" y1="933.0" x2="581.4" y2="1250.5" stroke="#EBEBEB" stroke-width="1.4"/>
<line x1="581.4" y1="1366.3" x2="581.4" y2="1577.2" stroke="#EBEBEB" stroke-width="1.4"/>
<line x1="668.1" y1="933.0" x2="668.1" y2="1250.5" stroke="#EBEBEB" stroke-width="1.4"/>
<line x1="668.1" y1="1366.3" x2="668.1" y2="1577.2" stroke="#EBEBEB" stroke-width="1.4"/>
<line x1="754.8" y1="933.0" x2="754.8" y2="1250.5" stroke="#EBEBEB" stroke-width="1.4"/>
<line x1="754.8" y1="1366.3" x2="754.8" y2="1577.2" stroke="#EBEBEB" stroke-width="1.4"/>
<line x1="841.5" y1="933.0" x2="841.5" y2="1250.5" stroke="#EBEBEB" stroke-width="1.4"/>
<line x1="841.5" y1="1366.3" x2="841.5" y2="1577.2" stroke="#EBEBEB" stroke-width="1.4"/>
<line x1="928.2" y1="933.0" x2="928.2" y2="1250.5" stroke="#EBEBEB" stroke-width="1.4"/>
<line x1="928.2" y1="1366.3" x2="928.2" y2="1577.2" stroke="#EBEBEB" stroke-width="1.4"/>
<polygon points="62.3,1466.4 62.3,1415.0 63.2,1426.5 63.9,1432.7 65.5,1437.2 67.6,1439.8 75.1,1443.8 87.7,1448.9 100.2,1451.3 125.2,1455.1 150.3,1457.6 187.9,1459.7 240.0,1462.0 300.0,1463.4 408.0,1465.2 480.0,1466.0 520.0,1466.4 560.0,1467.1 640.0,1468.2 700.0,1469.0 753.9,1470.4 800.0,1471.5 841.4,1473.1 870.0,1475.7 888.5,1478.5 915.5,1484.1 928.9,1489.4 934.0,1493.9 937.0,1500.1 939.7,1524.0 940.6,1550.6 941.2,1567.4 942.0,1568.3 942.0,1466.4" fill="#BEBEBE"/>
<polyline points="61.2,983.0 97.5,999.5 97.8,999.6 97.8,988.9 139.9,1007.2 140.2,1007.3 140.2,1001.4 158.5,1009.3 158.8,1009.4 158.8,1002.2 206.5,1022.9 206.8,1023.0 206.8,1019.5 229.2,1029.2 229.5,1029.3 229.5,1025.6 247.1,1033.2 247.1,1029.4 262.2,1036.0 262.5,1036.1 262.5,1034.3 267.7,1036.5 267.7,1034.7 293.5,1045.9 293.8,1046.0 293.8,1044.2 298.4,1046.2 298.4,1044.3 304.9,1047.1 304.9,1045.3 328.0,1055.3 328.3,1055.4 328.3,1054.2 329.9,1054.9 329.9,1053.7 331.4,1054.4 331.4,1053.2 345.6,1059.4 345.6,1058.2 367.7,1067.8 368.0,1067.9 368.0,1066.9 372.5,1068.8 372.5,1067.7 382.0,1071.9 382.0,1070.8 390.9,1074.7 390.9,1073.6 396.1,1075.8 396.1,1074.8 397.7,1075.5 397.7,1074.4 399.3,1075.1 399.3,1074.0 406.6,1077.2 414.3,1080.5 414.3,1080.3 420.1,1082.8 420.1,1082.5 437.9,1090.2 437.9,1090.0 441.0,1091.3 441.0,1091.0 467.5,1102.5 467.5,1102.3 488.2,1111.2 488.2,1111.0 512.8,1121.6 512.8,1121.4 527.5,1127.8 527.5,1127.5 538.3,1132.2 538.3,1131.9 541.7,1133.4 541.7,1133.1 550.0,1136.7 556.1,1139.3 556.1,1138.2 574.4,1146.1 574.4,1144.9 598.9,1155.5 598.9,1154.3 601.6,1155.5 601.6,1154.3 608.5,1157.3 608.5,1156.1 618.6,1160.5 618.9,1160.6 618.9,1160.0 620.5,1160.7 620.5,1160.1 622.0,1160.7 622.0,1160.1 666.1,1179.3 666.1,1178.6 710.7,1198.0 711.0,1198.1 711.0,1195.5 722.5,1200.5 722.5,1197.8 746.9,1208.4 746.9,1205.8 768.0,1214.9 768.0,1212.3 793.8,1223.5 794.1,1223.6 794.1,1217.6 797.6,1219.1 797.6,1213.1 802.4,1215.1 802.4,1209.1 850.8,1230.1 851.1,1230.2 851.1,1226.5 852.2,1227.0 852.2,1223.2 853.3,1223.7 853.3,1219.9 854.4,1220.4 854.4,1216.7 866.8,1222.1 866.8,1218.3 881.3,1224.6 881.6,1224.7 881.6,1219.4 882.7,1219.9 882.7,1214.6 883.8,1215.1 883.8,1209.7 884.9,1210.2 884.9,1204.9 892.4,1208.2 892.4,1202.8 899.8,1206.1 899.8,1200.7 909.6,1205.0 910.2,1188.2 916.8,1191.0 917.3,1164.8 924.4,1169.9 925.4,1156.7 930.5,1158.7 931.5,1128.3 934.0,1129.5 934.6,1058.3 936.6,1030.9 939.6,981.2" fill="none" stroke="#F8766D" stroke-width="4.3" stroke-linejoin="round" stroke-linecap="round"/>
<polyline points="61.2,983.0 64.1,983.5 64.4,983.6 64.4,964.2 86.6,973.8 86.9,973.9 86.9,963.1 106.9,971.8 107.2,971.9 107.2,962.5 135.7,974.9 136.0,975.0 136.0,966.8 143.4,970.0 143.7,970.1 143.7,965.7 184.1,983.2 184.4,983.3 184.4,979.0 213.4,991.6 213.7,991.7 213.7,986.7 221.3,990.0 221.6,990.1 221.6,985.1 267.4,1005.0 267.7,1005.1 267.7,1004.9 302.5,1020.0 302.8,1020.1 302.8,1018.6 311.6,1022.5 311.6,1021.0 335.6,1031.4 335.6,1029.9 346.2,1034.5 346.5,1034.6 346.5,1033.3 347.5,1033.7 347.5,1032.4 348.5,1032.8 348.5,1031.4 353.8,1033.7 353.8,1032.4 406.6,1055.3 408.7,1056.2 408.7,1056.1 440.0,1069.7 440.0,1069.5 448.0,1073.0 448.0,1072.9 492.6,1092.2 492.6,1092.1 499.9,1095.2 499.9,1095.1 513.5,1101.0 513.5,1100.9 535.8,1110.5 535.8,1110.4 536.8,1110.9 536.8,1110.7 537.9,1111.2 537.9,1111.0 550.0,1116.3 551.1,1116.8 551.1,1114.9 595.0,1134.0 595.3,1134.1 595.3,1133.0 599.5,1134.8 599.5,1133.6 623.9,1144.2 623.9,1143.0 628.7,1145.1 628.7,1143.9 660.0,1157.5 660.3,1157.6 660.3,1156.7 716.5,1181.1 716.8,1181.2 716.8,1179.4 718.2,1180.1 718.2,1178.2 719.7,1178.9 719.7,1177.1 728.3,1180.8 728.3,1179.0 738.1,1183.2 738.1,1181.4 766.6,1193.8 766.9,1193.9 766.9,1191.4 777.5,1196.0 777.8,1196.1 777.8,1193.8 779.0,1194.3 779.0,1191.9 780.3,1192.4 780.3,1190.1 781.5,1190.6 781.5,1188.2 789.5,1191.7 789.5,1189.3 796.6,1192.4 796.6,1190.0 807.8,1194.9 807.8,1192.5 819.5,1197.6 819.8,1197.7 819.8,1195.6 821.2,1196.2 821.2,1194.1 822.5,1194.7 822.5,1192.7 823.9,1193.2 823.9,1191.2 855.8,1205.0 856.1,1205.1 856.1,1201.1 857.4,1201.6 857.4,1197.6 858.6,1198.1 858.6,1194.1 862.3,1195.7 862.3,1191.6 866.8,1193.6 866.8,1189.5 868.2,1190.1 868.2,1186.1 869.5,1186.7 869.5,1182.6 870.9,1183.2 870.9,1179.2 882.0,1184.0 882.5,1184.2 882.5,1180.3 894.5,1185.5 894.8,1185.6 894.8,1174.6 896.5,1175.4 896.5,1164.4 900.3,1166.0 900.6,1166.1 900.6,1154.0 906.9,1156.8 906.9,1144.6 913.5,1147.5 913.8,1147.6 913.8,1135.6 919.3,1138.0 919.6,1138.1 919.6,1121.8 924.7,1124.0 925.0,1124.1 925.0,1101.0 929.5,1103.0 929.8,1103.1 929.8,1089.2 936.3,1092.0 936.6,1092.1 936.6,1091.6 937.8,1092.2 937.8,1091.6 939.0,1092.2 939.0,1091.7 939.8,1092.0 940.2,981.2" fill="none" stroke="#A3A500" stroke-width="4.3" stroke-linejoin="round" stroke-linecap="round"/>
<polyline points="61.2,983.0 103.8,1002.0 104.1,1002.1 104.1,996.3 112.7,1000.0 113.0,1000.1 113.0,995.1 117.3,997.0 117.6,997.1 117.6,994.0 118.7,994.5 118.7,991.4 134.0,998.0 134.3,998.1 134.3,995.8 138.5,997.6 138.5,995.3 142.4,997.0 142.7,997.1 142.7,995.2 144.2,995.9 144.2,993.9 145.8,994.6 145.8,992.7 150.0,994.5 150.0,992.6 159.4,996.7 159.4,994.7 181.0,1004.1 181.3,1004.2 181.3,1002.8 182.4,1003.3 182.4,1001.9 183.4,1002.3 183.4,1000.9 194.5,1005.7 194.5,1004.3 199.0,1006.3 199.0,1004.9 205.3,1007.6 205.3,1006.2 206.9,1006.9 206.9,1005.5 208.4,1006.1 208.4,1004.7 219.9,1009.7 219.9,1008.3 228.4,1012.0 228.7,1012.1 228.7,1011.0 238.3,1015.2 238.3,1014.1 254.2,1021.0 254.5,1021.1 254.5,1018.7 280.6,1030.0 280.9,1030.1 280.9,1029.4 281.9,1029.8 281.9,1029.0 283.0,1029.5 283.0,1028.7 285.9,1030.0 285.9,1029.2 287.1,1029.7 287.1,1028.9 288.3,1029.5 288.3,1028.7 289.5,1029.2 289.5,1028.4 290.7,1028.9 290.7,1028.2 303.9,1033.9 303.9,1033.1 317.4,1039.0 317.4,1038.2 322.4,1040.4 322.4,1039.6 330.8,1043.2 330.8,1042.4 339.1,1046.1 339.1,1045.3 344.0,1047.4 351.9,1050.8 351.9,1050.4 361.1,1054.4 361.1,1054.0 377.3,1061.0 377.3,1060.6 384.0,1063.5 384.0,1063.1 393.0,1067.0 393.0,1066.6 406.6,1072.5 550.0,1135.1 552.9,1136.4 552.9,1135.8 573.8,1144.9 573.8,1144.3 585.5,1149.4 585.5,1148.8 602.0,1155.9 602.0,1155.4 638.7,1171.3 638.7,1170.7 640.4,1171.5 640.4,1170.9 670.6,1184.0 670.9,1184.1 670.9,1183.2 677.6,1186.1 677.6,1185.2 683.4,1187.7 683.4,1186.8 709.3,1198.0 709.3,1197.1 751.7,1215.5 751.7,1214.6 761.1,1218.6 761.1,1217.7 782.0,1226.8 782.0,1225.9 801.9,1234.5 802.2,1234.6 802.2,1232.4 807.8,1234.8 808.1,1234.9 808.1,1233.1 809.3,1233.7 809.3,1231.9 810.6,1232.4 810.6,1230.6 811.8,1231.2 811.8,1229.4 813.1,1229.9 813.1,1228.1 814.3,1228.6 814.3,1226.8 818.5,1228.7 818.5,1226.9 825.4,1229.9 825.4,1228.1 839.4,1234.1 839.4,1232.3 840.4,1232.8 840.4,1231.0 850.8,1235.5 850.8,1233.7 856.6,1236.2 856.9,1236.3 856.9,1232.0 861.4,1233.9 861.4,1229.6 865.6,1231.4 865.6,1227.1 872.3,1230.0 872.6,1230.1 872.6,1226.8 874.0,1227.4 874.0,1224.1 875.3,1224.6 875.3,1221.3 876.7,1221.9 876.7,1218.6 884.6,1222.0 884.9,1222.1 884.9,1214.6 889.1,1216.4 889.1,1208.9 896.2,1212.0 896.5,1212.1 896.5,1202.7 901.9,1205.0 906.5,1207.0 907.2,1179.0 913.5,1182.0 914.3,1162.8 920.8,1165.5 921.4,1152.6 926.0,1154.6 926.5,1101.9 935.2,1105.5 935.6,1061.3 936.2,1061.5 936.6,995.4 939.6,981.2" fill="none" stroke="#00BF7D" stroke-width="4.3" stroke-linejoin="round" stroke-linecap="round"/>
<polyline points="61.2,983.0 67.6,985.5 67.9,985.6 67.9,948.5 89.8,958.0 90.1,958.1 90.1,951.2 108.6,959.2 108.9,959.3 108.9,949.2 117.7,953.0 118.0,953.1 118.0,947.1 153.2,962.4 153.5,962.5 153.5,957.2 170.1,964.4 170.4,964.5 170.4,955.6 188.3,963.4 188.6,963.5 188.6,959.5 203.6,966.0 203.6,961.9 228.6,972.8 228.9,972.9 228.9,967.3 257.0,979.5 257.3,979.6 257.3,975.6 293.1,991.1 293.4,991.2 293.4,987.5 319.7,998.9 320.0,999.0 320.0,997.6 321.4,998.1 321.4,996.7 322.7,997.2 322.7,995.8 339.4,1003.0 339.4,1001.5 363.5,1012.0 363.8,1012.1 363.8,1011.9 365.0,1012.4 365.0,1012.2 366.2,1012.7 366.2,1012.4 367.5,1013.0 367.5,1012.7 368.7,1013.2 368.7,1013.0 369.9,1013.5 369.9,1013.3 371.1,1013.8 371.1,1013.6 447.3,1046.6 447.3,1046.4 453.4,1049.0 453.4,1048.8 473.6,1057.5 473.6,1057.3 494.5,1066.4 494.5,1066.1 512.2,1073.8 512.2,1073.5 519.7,1076.8 519.7,1076.5 550.0,1089.7 606.2,1114.1 606.2,1110.5 630.5,1121.0 630.8,1121.1 630.8,1119.5 635.4,1121.5 635.4,1119.9 740.3,1165.4 740.6,1165.5 740.6,1163.9 766.0,1174.9 766.3,1175.0 766.3,1173.4 767.7,1174.0 767.7,1172.4 769.1,1173.0 769.1,1171.4 770.5,1172.0 770.5,1170.4 783.5,1176.0 784.5,1176.4 784.5,1172.9 792.4,1176.4 792.4,1172.9 804.2,1178.0 804.5,1178.1 804.5,1175.6 861.6,1200.4 861.9,1200.5 861.9,1196.8 863.3,1197.4 863.3,1193.6 864.6,1194.2 864.6,1190.4 866.0,1191.0 866.0,1187.2 872.1,1189.9 872.1,1186.1 878.3,1188.8 878.3,1185.1 880.0,1185.8 880.0,1182.0 883.3,1183.5 883.3,1179.7 887.4,1181.5 887.4,1177.7 902.3,1184.2 902.3,1180.4 902.5,1180.5 903.1,1179.0 906.2,1160.8 915.3,1164.8 915.8,1152.0 928.5,1150.6 929.5,1120.2 930.5,1089.7 934.0,1091.0 934.6,1076.5 939.4,1078.5 940.2,981.2" fill="none" stroke="#00B0F6" stroke-width="4.3" stroke-linejoin="round" stroke-linecap="round"/>
<polyline points="61.2,983.0 62.6,983.5 62.9,983.6 62.9,969.0 67.6,971.0 67.9,971.1 67.9,961.4 87.1,969.7 87.4,969.8 87.4,957.6 112.7,968.6 113.0,968.7 113.0,965.1 114.4,965.7 114.4,962.0 115.8,962.6 115.8,959.0 117.3,959.6 117.3,955.9 118.7,956.5 118.7,952.9 120.1,953.5 120.1,949.8 133.9,955.8 133.9,952.2 139.3,954.5 139.6,954.6 139.6,949.9 153.5,955.9 153.5,951.2 161.1,954.5 161.1,949.8 169.8,953.6 169.8,948.9 174.7,951.0 175.0,951.1 175.0,950.1 176.3,950.7 176.3,949.7 177.5,950.2 177.5,949.2 178.8,949.8 178.8,948.8 180.0,949.3 180.0,948.3 181.3,948.9 181.3,947.9 190.8,952.0 191.1,952.1 191.1,950.5 203.9,956.1 203.9,954.5 218.9,961.0 218.9,959.5 228.0,963.4 228.3,963.5 228.3,961.9 229.8,962.5 229.8,960.8 231.2,961.4 231.2,959.8 232.7,960.4 232.7,958.7 234.1,959.4 234.1,957.7 236.2,958.6 236.2,956.9 242.9,959.8 242.9,958.1 255.0,963.4 256.3,964.0 256.3,963.0 257.4,963.5 257.4,962.5 258.4,963.0 258.4,962.0 262.5,963.8 262.5,962.8 264.1,963.5 264.1,962.6 265.7,963.3 265.7,962.3 279.2,968.2 279.2,967.2 281.7,968.3 281.7,967.4 302.2,976.3 302.2,975.3 308.0,977.8 308.0,976.9 309.5,977.5 309.5,976.6 311.0,977.2 311.0,976.3 320.0,980.2 320.0,979.2 322.0,980.1 336.6,986.4 336.6,985.9 338.2,986.6 338.2,986.0 339.8,986.7 339.8,986.2 346.0,988.9 346.0,988.3 364.8,996.5 364.8,995.9 370.7,998.5 370.7,998.0 379.4,1001.7 379.4,1001.2 406.6,1013.0 420.1,1018.9 420.1,1018.5 426.4,1021.3 426.4,1020.9 440.4,1027.0 440.4,1026.7 447.3,1029.7 447.3,1029.3 450.8,1030.8 450.8,1030.5 452.2,1031.1 452.2,1030.8 453.6,1031.4 453.6,1031.1 455.0,1031.7 455.0,1031.3 461.3,1034.1 461.3,1033.7 485.7,1044.3 485.7,1044.0 496.6,1048.7 496.6,1048.4 538.9,1066.7 538.9,1066.4 547.9,1070.3 547.9,1070.0 550.0,1070.9 562.5,1076.3 562.5,1075.7 573.4,1080.4 573.4,1079.7 583.2,1084.0 583.2,1083.3 592.2,1087.2 592.2,1086.5 605.0,1092.1 605.3,1092.2 605.3,1091.5 608.9,1093.1 608.9,1092.4 610.5,1093.0 610.5,1092.3 612.0,1093.0 612.0,1092.3 630.8,1100.4 630.8,1099.7 642.9,1105.0 642.9,1104.3 707.5,1132.3 707.8,1132.4 707.8,1131.6 709.1,1132.1 709.1,1131.3 710.3,1131.8 710.3,1131.0 711.6,1131.5 711.6,1130.7 717.9,1133.4 717.9,1132.6 722.9,1134.8 722.9,1133.9 775.4,1156.7 775.7,1156.8 775.7,1155.3 777.0,1155.8 777.0,1154.3 778.2,1154.8 778.2,1153.3 784.5,1156.0 784.5,1154.4 826.8,1172.8 827.1,1172.9 827.1,1170.2 845.4,1178.1 845.7,1178.2 845.7,1176.5 862.4,1183.7 862.7,1183.8 862.7,1180.7 864.1,1181.3 864.1,1178.1 865.4,1178.7 865.4,1175.5 866.8,1176.1 866.8,1172.9 869.3,1174.0 869.3,1170.9 872.1,1172.1 872.1,1168.9 875.0,1170.2 875.0,1167.0 880.8,1169.5 880.8,1166.4 884.6,1168.0 884.9,1168.1 884.9,1165.1 886.0,1165.6 886.0,1162.6 887.1,1163.1 887.1,1160.1 888.2,1160.5 888.2,1157.5 892.4,1159.3 892.4,1156.3 905.0,1161.8 905.1,1161.8 906.2,1149.6 915.3,1152.6 916.3,1140.5 926.5,1146.6 928.5,1122.2 935.6,1124.2 935.6,1112.0 939.0,1113.5 939.6,1071.5 940.2,981.2" fill="none" stroke="#E76BF3" stroke-width="4.3" stroke-linejoin="round" stroke-linecap="round"/>
<rect x="66.8" y="1255.0" width="2.2" height="21.2" fill="#00B0F6"/>
<rect x="89.0" y="1255.0" width="2.2" height="21.2" fill="#00B0F6"/>
<rect x="107.8" y="1255.0" width="2.2" height="21.2" fill="#00B0F6"/>
<rect x="116.9" y="1255.0" width="2.2" height="21.2" fill="#00B0F6"/>
<rect x="152.4" y="1255.0" width="2.2" height="21.2" fill="#00B0F6"/>
<rect x="169.3" y="1255.0" width="2.2" height="21.2" fill="#00B0F6"/>
<rect x="187.5" y="1255.0" width="2.2" height="21.2" fill="#00B0F6"/>
<rect x="202.5" y="1255.0" width="2.2" height="21.2" fill="#00B0F6"/>
<rect x="227.8" y="1255.0" width="2.2" height="21.2" fill="#00B0F6"/>
<rect x="256.2" y="1255.0" width="2.2" height="21.2" fill="#00B0F6"/>
<rect x="292.3" y="1255.0" width="2.2" height="21.2" fill="#00B0F6"/>
<rect x="318.90" y="1255.0" width="2.6" height="21.2" fill="#00B0F6"/>
<rect x="321.60" y="1255.0" width="2.6" height="21.2" fill="#00B0F6"/>
<rect x="338.3" y="1255.0" width="2.2" height="21.2" fill="#00B0F6"/>
<rect x="362.70" y="1255.0" width="2.6" height="21.2" fill="#00B0F6"/>
<rect x="366.35" y="1255.0" width="2.6" height="21.2" fill="#00B0F6"/>
<rect x="370.00" y="1255.0" width="2.6" height="21.2" fill="#00B0F6"/>
<rect x="446.2" y="1255.0" width="2.2" height="21.2" fill="#00B0F6"/>
<rect x="452.3" y="1255.0" width="2.2" height="21.2" fill="#00B0F6"/>
<rect x="472.5" y="1255.0" width="2.2" height="21.2" fill="#00B0F6"/>
<rect x="493.4" y="1255.0" width="2.2" height="21.2" fill="#00B0F6"/>
<rect x="511.1" y="1255.0" width="2.2" height="21.2" fill="#00B0F6"/>
<rect x="518.6" y="1255.0" width="2.2" height="21.2" fill="#00B0F6"/>
<rect x="605.1" y="1255.0" width="2.2" height="21.2" fill="#00B0F6"/>
<rect x="629.7" y="1255.0" width="2.2" height="21.2" fill="#00B0F6"/>
<rect x="634.3" y="1255.0" width="2.2" height="21.2" fill="#00B0F6"/>
<rect x="739.5" y="1255.0" width="2.2" height="21.2" fill="#00B0F6"/>
<rect x="765.20" y="1255.0" width="2.6" height="21.2" fill="#00B0F6"/>
<rect x="769.40" y="1255.0" width="2.6" height="21.2" fill="#00B0F6"/>
<rect x="783.4" y="1255.0" width="2.2" height="21.2" fill="#00B0F6"/>
<rect x="791.3" y="1255.0" width="2.2" height="21.2" fill="#00B0F6"/>
<rect x="803.4" y="1255.0" width="2.2" height="21.2" fill="#00B0F6"/>
<rect x="860.80" y="1255.0" width="2.6" height="21.2" fill="#00B0F6"/>
<rect x="864.90" y="1255.0" width="2.6" height="21.2" fill="#00B0F6"/>
<rect x="871.0" y="1255.0" width="2.2" height="21.2" fill="#00B0F6"/>
<rect x="877.20" y="1255.0" width="2.6" height="21.2" fill="#00B0F6"/>
<rect x="878.90" y="1255.0" width="2.6" height="21.2" fill="#00B0F6"/>
<rect x="882.2" y="1255.0" width="2.2" height="21.2" fill="#00B0F6"/>
<rect x="886.3" y="1255.0" width="2.2" height="21.2" fill="#00B0F6"/>
<rect x="901.20" y="1255.0" width="2.6" height="21.2" fill="#00B0F6"/>
<rect x="903.65" y="1255.0" width="2.6" height="21.2" fill="#00B0F6"/>
<rect x="906.10" y="1255.0" width="2.6" height="21.2" fill="#00B0F6"/>
<rect x="912.20" y="1255.0" width="2.6" height="21.2" fill="#00B0F6"/>
<rect x="915.20" y="1255.0" width="2.6" height="21.2" fill="#00B0F6"/>
<rect x="925.90" y="1255.0" width="2.6" height="21.2" fill="#00B0F6"/>
<rect x="928.40" y="1255.0" width="2.6" height="21.2" fill="#00B0F6"/>
<rect x="930.90" y="1255.0" width="2.6" height="21.2" fill="#00B0F6"/>
<rect x="933.8" y="1255.0" width="2.2" height="21.2" fill="#00B0F6"/>
<rect x="939.9" y="1255.0" width="2.2" height="21.2" fill="#00B0F6"/>
<rect x="63.3" y="1276.2" width="2.2" height="21.2" fill="#A3A500"/>
<rect x="85.8" y="1276.2" width="2.2" height="21.2" fill="#A3A500"/>
<rect x="106.1" y="1276.2" width="2.2" height="21.2" fill="#A3A500"/>
<rect x="134.9" y="1276.2" width="2.2" height="21.2" fill="#A3A500"/>
<rect x="142.6" y="1276.2" width="2.2" height="21.2" fill="#A3A500"/>
<rect x="183.3" y="1276.2" width="2.2" height="21.2" fill="#A3A500"/>
<rect x="212.6" y="1276.2" width="2.2" height="21.2" fill="#A3A500"/>
<rect x="220.5" y="1276.2" width="2.2" height="21.2" fill="#A3A500"/>
<rect x="266.6" y="1276.2" width="2.2" height="21.2" fill="#A3A500"/>
<rect x="301.7" y="1276.2" width="2.2" height="21.2" fill="#A3A500"/>
<rect x="310.5" y="1276.2" width="2.2" height="21.2" fill="#A3A500"/>
<rect x="334.5" y="1276.2" width="2.2" height="21.2" fill="#A3A500"/>
<rect x="345.40" y="1276.2" width="2.6" height="21.2" fill="#A3A500"/>
<rect x="347.40" y="1276.2" width="2.6" height="21.2" fill="#A3A500"/>
<rect x="352.7" y="1276.2" width="2.2" height="21.2" fill="#A3A500"/>
<rect x="407.6" y="1276.2" width="2.2" height="21.2" fill="#A3A500"/>
<rect x="438.9" y="1276.2" width="2.2" height="21.2" fill="#A3A500"/>
<rect x="446.9" y="1276.2" width="2.2" height="21.2" fill="#A3A500"/>
<rect x="491.5" y="1276.2" width="2.2" height="21.2" fill="#A3A500"/>
<rect x="498.8" y="1276.2" width="2.2" height="21.2" fill="#A3A500"/>
<rect x="512.4" y="1276.2" width="2.2" height="21.2" fill="#A3A500"/>
<rect x="534.70" y="1276.2" width="2.6" height="21.2" fill="#A3A500"/>
<rect x="536.80" y="1276.2" width="2.6" height="21.2" fill="#A3A500"/>
<rect x="550.0" y="1276.2" width="2.2" height="21.2" fill="#A3A500"/>
<rect x="594.2" y="1276.2" width="2.2" height="21.2" fill="#A3A500"/>
<rect x="598.4" y="1276.2" width="2.2" height="21.2" fill="#A3A500"/>
<rect x="622.8" y="1276.2" width="2.2" height="21.2" fill="#A3A500"/>
<rect x="627.6" y="1276.2" width="2.2" height="21.2" fill="#A3A500"/>
<rect x="659.2" y="1276.2" width="2.2" height="21.2" fill="#A3A500"/>
<rect x="715.70" y="1276.2" width="2.6" height="21.2" fill="#A3A500"/>
<rect x="718.60" y="1276.2" width="2.6" height="21.2" fill="#A3A500"/>
<rect x="727.2" y="1276.2" width="2.2" height="21.2" fill="#A3A500"/>
<rect x="737.0" y="1276.2" width="2.2" height="21.2" fill="#A3A500"/>
<rect x="765.8" y="1276.2" width="2.2" height="21.2" fill="#A3A500"/>
<rect x="776.70" y="1276.2" width="2.6" height="21.2" fill="#A3A500"/>
<rect x="780.40" y="1276.2" width="2.6" height="21.2" fill="#A3A500"/>
<rect x="788.4" y="1276.2" width="2.2" height="21.2" fill="#A3A500"/>
<rect x="795.5" y="1276.2" width="2.2" height="21.2" fill="#A3A500"/>
<rect x="806.7" y="1276.2" width="2.2" height="21.2" fill="#A3A500"/>
<rect x="818.70" y="1276.2" width="2.6" height="21.2" fill="#A3A500"/>
<rect x="822.80" y="1276.2" width="2.6" height="21.2" fill="#A3A500"/>
<rect x="855.00" y="1276.2" width="2.6" height="21.2" fill="#A3A500"/>
<rect x="857.50" y="1276.2" width="2.6" height="21.2" fill="#A3A500"/>
<rect x="861.2" y="1276.2" width="2.2" height="21.2" fill="#A3A500"/>
<rect x="865.70" y="1276.2" width="2.6" height="21.2" fill="#A3A500"/>
<rect x="869.80" y="1276.2" width="2.6" height="21.2" fill="#A3A500"/>
<rect x="881.4" y="1276.2" width="2.2" height="21.2" fill="#A3A500"/>
<rect x="893.70" y="1276.2" width="2.6" height="21.2" fill="#A3A500"/>
<rect x="895.40" y="1276.2" width="2.6" height="21.2" fill="#A3A500"/>
<rect x="899.5" y="1276.2" width="2.2" height="21.2" fill="#A3A500"/>
<rect x="905.8" y="1276.2" width="2.2" height="21.2" fill="#A3A500"/>
<rect x="912.7" y="1276.2" width="2.2" height="21.2" fill="#A3A500"/>
<rect x="918.5" y="1276.2" width="2.2" height="21.2" fill="#A3A500"/>
<rect x="923.9" y="1276.2" width="2.2" height="21.2" fill="#A3A500"/>
<rect x="928.7" y="1276.2" width="2.2" height="21.2" fill="#A3A500"/>
<rect x="935.50" y="1276.2" width="2.6" height="21.2" fill="#A3A500"/>
<rect x="937.95" y="1276.2" width="2.6" height="21.2" fill="#A3A500"/>
<rect x="940.40" y="1276.2" width="2.6" height="21.2" fill="#A3A500"/>
<rect x="61.8" y="1297.4" width="2.2" height="21.2" fill="#E76BF3"/>
<rect x="66.8" y="1297.4" width="2.2" height="21.2" fill="#E76BF3"/>
<rect x="86.3" y="1297.4" width="2.2" height="21.2" fill="#E76BF3"/>
<rect x="111.90" y="1297.4" width="2.6" height="21.2" fill="#E76BF3"/>
<rect x="115.45" y="1297.4" width="2.6" height="21.2" fill="#E76BF3"/>
<rect x="119.00" y="1297.4" width="2.6" height="21.2" fill="#E76BF3"/>
<rect x="132.8" y="1297.4" width="2.2" height="21.2" fill="#E76BF3"/>
<rect x="138.5" y="1297.4" width="2.2" height="21.2" fill="#E76BF3"/>
<rect x="152.4" y="1297.4" width="2.2" height="21.2" fill="#E76BF3"/>
<rect x="160.0" y="1297.4" width="2.2" height="21.2" fill="#E76BF3"/>
<rect x="168.7" y="1297.4" width="2.2" height="21.2" fill="#E76BF3"/>
<rect x="173.90" y="1297.4" width="2.6" height="21.2" fill="#E76BF3"/>
<rect x="177.05" y="1297.4" width="2.6" height="21.2" fill="#E76BF3"/>
<rect x="180.20" y="1297.4" width="2.6" height="21.2" fill="#E76BF3"/>
<rect x="190.0" y="1297.4" width="2.2" height="21.2" fill="#E76BF3"/>
<rect x="202.8" y="1297.4" width="2.2" height="21.2" fill="#E76BF3"/>
<rect x="217.8" y="1297.4" width="2.2" height="21.2" fill="#E76BF3"/>
<rect x="227.20" y="1297.4" width="2.6" height="21.2" fill="#E76BF3"/>
<rect x="230.10" y="1297.4" width="2.6" height="21.2" fill="#E76BF3"/>
<rect x="233.00" y="1297.4" width="2.6" height="21.2" fill="#E76BF3"/>
<rect x="235.1" y="1297.4" width="2.2" height="21.2" fill="#E76BF3"/>
<rect x="241.8" y="1297.4" width="2.2" height="21.2" fill="#E76BF3"/>
<rect x="255.20" y="1297.4" width="2.6" height="21.2" fill="#E76BF3"/>
<rect x="257.30" y="1297.4" width="2.6" height="21.2" fill="#E76BF3"/>
<rect x="261.40" y="1297.4" width="2.6" height="21.2" fill="#E76BF3"/>
<rect x="264.60" y="1297.4" width="2.6" height="21.2" fill="#E76BF3"/>
<rect x="278.1" y="1297.4" width="2.2" height="21.2" fill="#E76BF3"/>
<rect x="280.6" y="1297.4" width="2.2" height="21.2" fill="#E76BF3"/>
<rect x="301.1" y="1297.4" width="2.2" height="21.2" fill="#E76BF3"/>
<rect x="306.90" y="1297.4" width="2.6" height="21.2" fill="#E76BF3"/>
<rect x="309.90" y="1297.4" width="2.6" height="21.2" fill="#E76BF3"/>
<rect x="318.9" y="1297.4" width="2.2" height="21.2" fill="#E76BF3"/>
<rect x="335.50" y="1297.4" width="2.6" height="21.2" fill="#E76BF3"/>
<rect x="338.70" y="1297.4" width="2.6" height="21.2" fill="#E76BF3"/>
<rect x="344.9" y="1297.4" width="2.2" height="21.2" fill="#E76BF3"/>
<rect x="363.7" y="1297.4" width="2.2" height="21.2" fill="#E76BF3"/>
<rect x="369.6" y="1297.4" width="2.2" height="21.2" fill="#E76BF3"/>
<rect x="378.3" y="1297.4" width="2.2" height="21.2" fill="#E76BF3"/>
<rect x="419.0" y="1297.4" width="2.2" height="21.2" fill="#E76BF3"/>
<rect x="425.3" y="1297.4" width="2.2" height="21.2" fill="#E76BF3"/>
<rect x="439.3" y="1297.4" width="2.2" height="21.2" fill="#E76BF3"/>
<rect x="446.2" y="1297.4" width="2.2" height="21.2" fill="#E76BF3"/>
<rect x="449.70" y="1297.4" width="2.6" height="21.2" fill="#E76BF3"/>
<rect x="453.90" y="1297.4" width="2.6" height="21.2" fill="#E76BF3"/>
<rect x="460.2" y="1297.4" width="2.2" height="21.2" fill="#E76BF3"/>
<rect x="484.6" y="1297.4" width="2.2" height="21.2" fill="#E76BF3"/>
<rect x="495.5" y="1297.4" width="2.2" height="21.2" fill="#E76BF3"/>
<rect x="537.8" y="1297.4" width="2.2" height="21.2" fill="#E76BF3"/>
<rect x="546.8" y="1297.4" width="2.2" height="21.2" fill="#E76BF3"/>
<rect x="561.4" y="1297.4" width="2.2" height="21.2" fill="#E76BF3"/>
<rect x="572.3" y="1297.4" width="2.2" height="21.2" fill="#E76BF3"/>
<rect x="582.1" y="1297.4" width="2.2" height="21.2" fill="#E76BF3"/>
<rect x="591.1" y="1297.4" width="2.2" height="21.2" fill="#E76BF3"/>
<rect x="604.2" y="1297.4" width="2.2" height="21.2" fill="#E76BF3"/>
<rect x="607.80" y="1297.4" width="2.6" height="21.2" fill="#E76BF3"/>
<rect x="610.90" y="1297.4" width="2.6" height="21.2" fill="#E76BF3"/>
<rect x="629.7" y="1297.4" width="2.2" height="21.2" fill="#E76BF3"/>
<rect x="641.8" y="1297.4" width="2.2" height="21.2" fill="#E76BF3"/>
<rect x="706.70" y="1297.4" width="2.6" height="21.2" fill="#E76BF3"/>
<rect x="710.50" y="1297.4" width="2.6" height="21.2" fill="#E76BF3"/>
<rect x="716.8" y="1297.4" width="2.2" height="21.2" fill="#E76BF3"/>
<rect x="721.8" y="1297.4" width="2.2" height="21.2" fill="#E76BF3"/>
<rect x="774.60" y="1297.4" width="2.6" height="21.2" fill="#E76BF3"/>
<rect x="777.10" y="1297.4" width="2.6" height="21.2" fill="#E76BF3"/>
<rect x="783.4" y="1297.4" width="2.2" height="21.2" fill="#E76BF3"/>
<rect x="826.0" y="1297.4" width="2.2" height="21.2" fill="#E76BF3"/>
<rect x="844.6" y="1297.4" width="2.2" height="21.2" fill="#E76BF3"/>
<rect x="861.60" y="1297.4" width="2.6" height="21.2" fill="#E76BF3"/>
<rect x="865.70" y="1297.4" width="2.6" height="21.2" fill="#E76BF3"/>
<rect x="868.2" y="1297.4" width="2.2" height="21.2" fill="#E76BF3"/>
<rect x="871.0" y="1297.4" width="2.2" height="21.2" fill="#E76BF3"/>
<rect x="873.9" y="1297.4" width="2.2" height="21.2" fill="#E76BF3"/>
<rect x="879.7" y="1297.4" width="2.2" height="21.2" fill="#E76BF3"/>
<rect x="883.80" y="1297.4" width="2.6" height="21.2" fill="#E76BF3"/>
<rect x="887.10" y="1297.4" width="2.6" height="21.2" fill="#E76BF3"/>
<rect x="891.3" y="1297.4" width="2.2" height="21.2" fill="#E76BF3"/>
<rect x="904.0" y="1297.4" width="2.2" height="21.2" fill="#E76BF3"/>
<rect x="912.70" y="1297.4" width="2.6" height="21.2" fill="#E76BF3"/>
<rect x="916.00" y="1297.4" width="2.6" height="21.2" fill="#E76BF3"/>
<rect x="924.30" y="1297.4" width="2.6" height="21.2" fill="#E76BF3"/>
<rect x="928.40" y="1297.4" width="2.6" height="21.2" fill="#E76BF3"/>
<rect x="932.80" y="1297.4" width="2.6" height="21.2" fill="#E76BF3"/>
<rect x="935.33" y="1297.4" width="2.6" height="21.2" fill="#E76BF3"/>
<rect x="937.87" y="1297.4" width="2.6" height="21.2" fill="#E76BF3"/>
<rect x="940.40" y="1297.4" width="2.6" height="21.2" fill="#E76BF3"/>
<rect x="96.7" y="1318.6" width="2.2" height="21.2" fill="#F8766D"/>
<rect x="139.1" y="1318.6" width="2.2" height="21.2" fill="#F8766D"/>
<rect x="157.7" y="1318.6" width="2.2" height="21.2" fill="#F8766D"/>
<rect x="205.7" y="1318.6" width="2.2" height="21.2" fill="#F8766D"/>
<rect x="228.4" y="1318.6" width="2.2" height="21.2" fill="#F8766D"/>
<rect x="246.0" y="1318.6" width="2.2" height="21.2" fill="#F8766D"/>
<rect x="261.4" y="1318.6" width="2.2" height="21.2" fill="#F8766D"/>
<rect x="266.6" y="1318.6" width="2.2" height="21.2" fill="#F8766D"/>
<rect x="292.7" y="1318.6" width="2.2" height="21.2" fill="#F8766D"/>
<rect x="297.3" y="1318.6" width="2.2" height="21.2" fill="#F8766D"/>
<rect x="303.8" y="1318.6" width="2.2" height="21.2" fill="#F8766D"/>
<rect x="327.20" y="1318.6" width="2.6" height="21.2" fill="#F8766D"/>
<rect x="330.30" y="1318.6" width="2.6" height="21.2" fill="#F8766D"/>
<rect x="344.5" y="1318.6" width="2.2" height="21.2" fill="#F8766D"/>
<rect x="366.9" y="1318.6" width="2.2" height="21.2" fill="#F8766D"/>
<rect x="371.4" y="1318.6" width="2.2" height="21.2" fill="#F8766D"/>
<rect x="380.9" y="1318.6" width="2.2" height="21.2" fill="#F8766D"/>
<rect x="389.8" y="1318.6" width="2.2" height="21.2" fill="#F8766D"/>
<rect x="395.00" y="1318.6" width="2.6" height="21.2" fill="#F8766D"/>
<rect x="398.20" y="1318.6" width="2.6" height="21.2" fill="#F8766D"/>
<rect x="413.2" y="1318.6" width="2.2" height="21.2" fill="#F8766D"/>
<rect x="419.0" y="1318.6" width="2.2" height="21.2" fill="#F8766D"/>
<rect x="436.8" y="1318.6" width="2.2" height="21.2" fill="#F8766D"/>
<rect x="439.9" y="1318.6" width="2.2" height="21.2" fill="#F8766D"/>
<rect x="466.4" y="1318.6" width="2.2" height="21.2" fill="#F8766D"/>
<rect x="487.1" y="1318.6" width="2.2" height="21.2" fill="#F8766D"/>
<rect x="511.7" y="1318.6" width="2.2" height="21.2" fill="#F8766D"/>
<rect x="526.4" y="1318.6" width="2.2" height="21.2" fill="#F8766D"/>
<rect x="537.2" y="1318.6" width="2.2" height="21.2" fill="#F8766D"/>
<rect x="540.6" y="1318.6" width="2.2" height="21.2" fill="#F8766D"/>
<rect x="555.0" y="1318.6" width="2.2" height="21.2" fill="#F8766D"/>
<rect x="573.3" y="1318.6" width="2.2" height="21.2" fill="#F8766D"/>
<rect x="597.8" y="1318.6" width="2.2" height="21.2" fill="#F8766D"/>
<rect x="600.5" y="1318.6" width="2.2" height="21.2" fill="#F8766D"/>
<rect x="607.4" y="1318.6" width="2.2" height="21.2" fill="#F8766D"/>
<rect x="617.80" y="1318.6" width="2.6" height="21.2" fill="#F8766D"/>
<rect x="620.90" y="1318.6" width="2.6" height="21.2" fill="#F8766D"/>
<rect x="665.0" y="1318.6" width="2.2" height="21.2" fill="#F8766D"/>
<rect x="709.9" y="1318.6" width="2.2" height="21.2" fill="#F8766D"/>
<rect x="721.4" y="1318.6" width="2.2" height="21.2" fill="#F8766D"/>
<rect x="745.8" y="1318.6" width="2.2" height="21.2" fill="#F8766D"/>
<rect x="766.9" y="1318.6" width="2.2" height="21.2" fill="#F8766D"/>
<rect x="793.0" y="1318.6" width="2.2" height="21.2" fill="#F8766D"/>
<rect x="796.5" y="1318.6" width="2.2" height="21.2" fill="#F8766D"/>
<rect x="801.3" y="1318.6" width="2.2" height="21.2" fill="#F8766D"/>
<rect x="850.00" y="1318.6" width="2.6" height="21.2" fill="#F8766D"/>
<rect x="853.30" y="1318.6" width="2.6" height="21.2" fill="#F8766D"/>
<rect x="865.7" y="1318.6" width="2.2" height="21.2" fill="#F8766D"/>
<rect x="880.50" y="1318.6" width="2.6" height="21.2" fill="#F8766D"/>
<rect x="883.80" y="1318.6" width="2.6" height="21.2" fill="#F8766D"/>
<rect x="891.3" y="1318.6" width="2.2" height="21.2" fill="#F8766D"/>
<rect x="898.7" y="1318.6" width="2.2" height="21.2" fill="#F8766D"/>
<rect x="908.6" y="1318.6" width="2.2" height="21.2" fill="#F8766D"/>
<rect x="912.70" y="1318.6" width="2.6" height="21.2" fill="#F8766D"/>
<rect x="914.40" y="1318.6" width="2.6" height="21.2" fill="#F8766D"/>
<rect x="922.9" y="1318.6" width="2.2" height="21.2" fill="#F8766D"/>
<rect x="927.50" y="1318.6" width="2.6" height="21.2" fill="#F8766D"/>
<rect x="930.60" y="1318.6" width="2.6" height="21.2" fill="#F8766D"/>
<rect x="933.70" y="1318.6" width="2.6" height="21.2" fill="#F8766D"/>
<rect x="936.80" y="1318.6" width="2.6" height="21.2" fill="#F8766D"/>
<rect x="939.90" y="1318.6" width="2.6" height="21.2" fill="#F8766D"/>
<rect x="103.0" y="1339.8" width="2.2" height="21.2" fill="#00BF7D"/>
<rect x="111.9" y="1339.8" width="2.2" height="21.2" fill="#00BF7D"/>
<rect x="116.50" y="1339.8" width="2.6" height="21.2" fill="#00BF7D"/>
<rect x="117.60" y="1339.8" width="2.6" height="21.2" fill="#00BF7D"/>
<rect x="133.2" y="1339.8" width="2.2" height="21.2" fill="#00BF7D"/>
<rect x="137.4" y="1339.8" width="2.2" height="21.2" fill="#00BF7D"/>
<rect x="141.60" y="1339.8" width="2.6" height="21.2" fill="#00BF7D"/>
<rect x="144.70" y="1339.8" width="2.6" height="21.2" fill="#00BF7D"/>
<rect x="148.9" y="1339.8" width="2.2" height="21.2" fill="#00BF7D"/>
<rect x="158.3" y="1339.8" width="2.2" height="21.2" fill="#00BF7D"/>
<rect x="180.20" y="1339.8" width="2.6" height="21.2" fill="#00BF7D"/>
<rect x="182.30" y="1339.8" width="2.6" height="21.2" fill="#00BF7D"/>
<rect x="193.4" y="1339.8" width="2.2" height="21.2" fill="#00BF7D"/>
<rect x="197.9" y="1339.8" width="2.2" height="21.2" fill="#00BF7D"/>
<rect x="204.20" y="1339.8" width="2.6" height="21.2" fill="#00BF7D"/>
<rect x="207.30" y="1339.8" width="2.6" height="21.2" fill="#00BF7D"/>
<rect x="218.8" y="1339.8" width="2.2" height="21.2" fill="#00BF7D"/>
<rect x="227.6" y="1339.8" width="2.2" height="21.2" fill="#00BF7D"/>
<rect x="237.2" y="1339.8" width="2.2" height="21.2" fill="#00BF7D"/>
<rect x="253.4" y="1339.8" width="2.2" height="21.2" fill="#00BF7D"/>
<rect x="279.80" y="1339.8" width="2.6" height="21.2" fill="#00BF7D"/>
<rect x="281.90" y="1339.8" width="2.6" height="21.2" fill="#00BF7D"/>
<rect x="284.80" y="1339.8" width="2.6" height="21.2" fill="#00BF7D"/>
<rect x="287.20" y="1339.8" width="2.6" height="21.2" fill="#00BF7D"/>
<rect x="289.60" y="1339.8" width="2.6" height="21.2" fill="#00BF7D"/>
<rect x="302.8" y="1339.8" width="2.2" height="21.2" fill="#00BF7D"/>
<rect x="316.3" y="1339.8" width="2.2" height="21.2" fill="#00BF7D"/>
<rect x="321.3" y="1339.8" width="2.2" height="21.2" fill="#00BF7D"/>
<rect x="329.7" y="1339.8" width="2.2" height="21.2" fill="#00BF7D"/>
<rect x="338.0" y="1339.8" width="2.2" height="21.2" fill="#00BF7D"/>
<rect x="350.8" y="1339.8" width="2.2" height="21.2" fill="#00BF7D"/>
<rect x="360.0" y="1339.8" width="2.2" height="21.2" fill="#00BF7D"/>
<rect x="376.2" y="1339.8" width="2.2" height="21.2" fill="#00BF7D"/>
<rect x="382.9" y="1339.8" width="2.2" height="21.2" fill="#00BF7D"/>
<rect x="391.9" y="1339.8" width="2.2" height="21.2" fill="#00BF7D"/>
<rect x="427.4" y="1339.8" width="2.2" height="21.2" fill="#00BF7D"/>
<rect x="445.8" y="1339.8" width="2.2" height="21.2" fill="#00BF7D"/>
<rect x="473.1" y="1339.8" width="2.2" height="21.2" fill="#00BF7D"/>
<rect x="538.5" y="1339.8" width="2.2" height="21.2" fill="#00BF7D"/>
<rect x="551.8" y="1339.8" width="2.2" height="21.2" fill="#00BF7D"/>
<rect x="572.7" y="1339.8" width="2.2" height="21.2" fill="#00BF7D"/>
<rect x="584.4" y="1339.8" width="2.2" height="21.2" fill="#00BF7D"/>
<rect x="600.9" y="1339.8" width="2.2" height="21.2" fill="#00BF7D"/>
<rect x="637.6" y="1339.8" width="2.2" height="21.2" fill="#00BF7D"/>
<rect x="639.3" y="1339.8" width="2.2" height="21.2" fill="#00BF7D"/>
<rect x="669.8" y="1339.8" width="2.2" height="21.2" fill="#00BF7D"/>
<rect x="676.5" y="1339.8" width="2.2" height="21.2" fill="#00BF7D"/>
<rect x="682.3" y="1339.8" width="2.2" height="21.2" fill="#00BF7D"/>
<rect x="708.2" y="1339.8" width="2.2" height="21.2" fill="#00BF7D"/>
<rect x="750.6" y="1339.8" width="2.2" height="21.2" fill="#00BF7D"/>
<rect x="760.0" y="1339.8" width="2.2" height="21.2" fill="#00BF7D"/>
<rect x="780.9" y="1339.8" width="2.2" height="21.2" fill="#00BF7D"/>
<rect x="801.1" y="1339.8" width="2.2" height="21.2" fill="#00BF7D"/>
<rect x="807.00" y="1339.8" width="2.6" height="21.2" fill="#00BF7D"/>
<rect x="810.10" y="1339.8" width="2.6" height="21.2" fill="#00BF7D"/>
<rect x="813.20" y="1339.8" width="2.6" height="21.2" fill="#00BF7D"/>
<rect x="817.4" y="1339.8" width="2.2" height="21.2" fill="#00BF7D"/>
<rect x="824.3" y="1339.8" width="2.2" height="21.2" fill="#00BF7D"/>
<rect x="838.3" y="1339.8" width="2.2" height="21.2" fill="#00BF7D"/>
<rect x="839.3" y="1339.8" width="2.2" height="21.2" fill="#00BF7D"/>
<rect x="849.7" y="1339.8" width="2.2" height="21.2" fill="#00BF7D"/>
<rect x="855.8" y="1339.8" width="2.2" height="21.2" fill="#00BF7D"/>
<rect x="860.3" y="1339.8" width="2.2" height="21.2" fill="#00BF7D"/>
<rect x="864.5" y="1339.8" width="2.2" height="21.2" fill="#00BF7D"/>
<rect x="871.50" y="1339.8" width="2.6" height="21.2" fill="#00BF7D"/>
<rect x="875.60" y="1339.8" width="2.6" height="21.2" fill="#00BF7D"/>
<rect x="883.8" y="1339.8" width="2.2" height="21.2" fill="#00BF7D"/>
<rect x="888.0" y="1339.8" width="2.2" height="21.2" fill="#00BF7D"/>
<rect x="895.4" y="1339.8" width="2.2" height="21.2" fill="#00BF7D"/>
<rect x="901.20" y="1339.8" width="2.6" height="21.2" fill="#00BF7D"/>
<rect x="904.05" y="1339.8" width="2.6" height="21.2" fill="#00BF7D"/>
<rect x="906.90" y="1339.8" width="2.6" height="21.2" fill="#00BF7D"/>
<rect x="911.90" y="1339.8" width="2.6" height="21.2" fill="#00BF7D"/>
<rect x="916.00" y="1339.8" width="2.6" height="21.2" fill="#00BF7D"/>
<rect x="920.1" y="1339.8" width="2.2" height="21.2" fill="#00BF7D"/>
<rect x="923.40" y="1339.8" width="2.6" height="21.2" fill="#00BF7D"/>
<rect x="925.90" y="1339.8" width="2.6" height="21.2" fill="#00BF7D"/>
<rect x="928.40" y="1339.8" width="2.6" height="21.2" fill="#00BF7D"/>
<rect x="931.20" y="1339.8" width="2.6" height="21.2" fill="#00BF7D"/>
<rect x="934.10" y="1339.8" width="2.6" height="21.2" fill="#00BF7D"/>
<rect x="937.00" y="1339.8" width="2.6" height="21.2" fill="#00BF7D"/>
<rect x="939.90" y="1339.8" width="2.6" height="21.2" fill="#00BF7D"/>
<line x1="61.4" y1="933.0" x2="61.4" y2="1250.5" stroke="#333" stroke-width="1.9"/>
<line x1="61.4" y1="1255.0" x2="61.4" y2="1361.0" stroke="#333" stroke-width="1.9"/>
<line x1="61.4" y1="1366.3" x2="61.4" y2="1578.2" stroke="#333" stroke-width="1.9"/>
<line x1="60.4" y1="1577.2" x2="942.0" y2="1577.2" stroke="#333" stroke-width="1.9"/>
<line x1="57.4" y1="983.0" x2="61.4" y2="983.0" stroke="#333" stroke-width="1.9"/>
<text x="53.6" y="988.1" font-size="12.8" fill="#4D4D4D" text-anchor="end" font-family="Liberation Sans, sans-serif" stroke="#4D4D4D" stroke-width="0.3">0.00</text>
<line x1="57.4" y1="1078.6" x2="61.4" y2="1078.6" stroke="#333" stroke-width="1.9"/>
<text x="53.6" y="1083.7" font-size="12.8" fill="#4D4D4D" text-anchor="end" font-family="Liberation Sans, sans-serif" stroke="#4D4D4D" stroke-width="0.3">−0.25</text>
<line x1="57.4" y1="1174.2" x2="61.4" y2="1174.2" stroke="#333" stroke-width="1.9"/>
<text x="53.6" y="1179.3" font-size="12.8" fill="#4D4D4D" text-anchor="end" font-family="Liberation Sans, sans-serif" stroke="#4D4D4D" stroke-width="0.3">−0.50</text>
<line x1="57.4" y1="1377.6" x2="61.4" y2="1377.6" stroke="#333" stroke-width="1.9"/>
<text x="53.6" y="1382.7" font-size="12.8" fill="#4D4D4D" text-anchor="end" font-family="Liberation Sans, sans-serif" stroke="#4D4D4D" stroke-width="0.3">1.0</text>
<line x1="57.4" y1="1422.0" x2="61.4" y2="1422.0" stroke="#333" stroke-width="1.9"/>
<text x="53.6" y="1427.1" font-size="12.8" fill="#4D4D4D" text-anchor="end" font-family="Liberation Sans, sans-serif" stroke="#4D4D4D" stroke-width="0.3">0.5</text>
<line x1="57.4" y1="1466.4" x2="61.4" y2="1466.4" stroke="#333" stroke-width="1.9"/>
<text x="53.6" y="1471.5" font-size="12.8" fill="#4D4D4D" text-anchor="end" font-family="Liberation Sans, sans-serif" stroke="#4D4D4D" stroke-width="0.3">0.0</text>
<line x1="57.4" y1="1510.8" x2="61.4" y2="1510.8" stroke="#333" stroke-width="1.9"/>
<text x="53.6" y="1515.9" font-size="12.8" fill="#4D4D4D" text-anchor="end" font-family="Liberation Sans, sans-serif" stroke="#4D4D4D" stroke-width="0.3">−0.5</text>
<line x1="57.4" y1="1555.2" x2="61.4" y2="1555.2" stroke="#333" stroke-width="1.9"/>
<text x="53.6" y="1560.3" font-size="12.8" fill="#4D4D4D" text-anchor="end" font-family="Liberation Sans, sans-serif" stroke="#4D4D4D" stroke-width="0.3">−1.0</text>
<line x1="234.6" y1="1577.2" x2="234.6" y2="1581.7" stroke="#333" stroke-width="1.9"/>
<text x="234.6" y="1595.0" font-size="12.8" fill="#4D4D4D" text-anchor="middle" font-family="Liberation Sans, sans-serif" stroke="#4D4D4D" stroke-width="0.3">5000</text>
<line x1="408.0" y1="1577.2" x2="408.0" y2="1581.7" stroke="#333" stroke-width="1.9"/>
<text x="408.0" y="1595.0" font-size="12.8" fill="#4D4D4D" text-anchor="middle" font-family="Liberation Sans, sans-serif" stroke="#4D4D4D" stroke-width="0.3">10000</text>
<line x1="581.4" y1="1577.2" x2="581.4" y2="1581.7" stroke="#333" stroke-width="1.9"/>
<text x="581.4" y="1595.0" font-size="12.8" fill="#4D4D4D" text-anchor="middle" font-family="Liberation Sans, sans-serif" stroke="#4D4D4D" stroke-width="0.3">15000</text>
<line x1="754.8" y1="1577.2" x2="754.8" y2="1581.7" stroke="#333" stroke-width="1.9"/>
<text x="754.8" y="1595.0" font-size="12.8" fill="#4D4D4D" text-anchor="middle" font-family="Liberation Sans, sans-serif" stroke="#4D4D4D" stroke-width="0.3">20000</text>
<line x1="928.2" y1="1577.2" x2="928.2" y2="1581.7" stroke="#333" stroke-width="1.9"/>
<text x="928.2" y="1595.0" font-size="12.8" fill="#4D4D4D" text-anchor="middle" font-family="Liberation Sans, sans-serif" stroke="#4D4D4D" stroke-width="0.3">25000</text>
<text x="501.9" y="1613.1" font-size="16.9" fill="#000" text-anchor="middle" font-family="Liberation Sans, sans-serif" stroke="#000" stroke-width="0.2">Rank in Ordered Dataset</text>
<text x="0" y="0" font-size="16.8" fill="#000" stroke="#000" stroke-width="0.2" text-anchor="middle" font-family="Liberation Sans, sans-serif" transform="translate(13.7,1091.4) rotate(-90)">Running Enrichment Score</text>
<text x="0" y="0" font-size="16.9" fill="#000" stroke="#000" stroke-width="0.2" text-anchor="middle" font-family="Liberation Sans, sans-serif" transform="translate(13.7,1470.9) rotate(-90)">Ranked List Metric</text>
<line x1="576.2" y1="927.4" x2="605.6" y2="927.4" stroke="#F8766D" stroke-width="4.4"/>
<text x="618.2" y="931.9" font-size="12.6" fill="#000" text-anchor="start" font-family="Liberation Sans, sans-serif" stroke="#000" stroke-width="0.15">KEGG_COMPLEMENT_AND_COAGULATION_CASCADES</text>
<line x1="576.2" y1="963.9" x2="605.6" y2="963.9" stroke="#A3A500" stroke-width="4.4"/>
<text x="618.2" y="968.4" font-size="12.6" fill="#000" text-anchor="start" font-family="Liberation Sans, sans-serif" stroke="#000" stroke-width="0.15">KEGG_GLYCOLYSIS_GLUCONEOGENESIS</text>
<line x1="576.2" y1="1000.4" x2="605.6" y2="1000.4" stroke="#00BF7D" stroke-width="4.4"/>
<text x="618.2" y="1004.9" font-size="12.6" fill="#000" text-anchor="start" font-family="Liberation Sans, sans-serif" stroke="#000" stroke-width="0.15">KEGG_LYSOSOME</text>
<line x1="576.2" y1="1036.9" x2="605.6" y2="1036.9" stroke="#00B0F6" stroke-width="4.4"/>
<text x="618.2" y="1041.4" font-size="12.6" fill="#000" text-anchor="start" font-family="Liberation Sans, sans-serif" stroke="#000" stroke-width="0.15">KEGG_NOD_LIKE_RECEPTOR_SIGNALING_PATHWAY</text>
<line x1="576.2" y1="1073.4" x2="605.6" y2="1073.4" stroke="#E76BF3" stroke-width="4.4"/>
<text x="618.2" y="1077.9" font-size="12.6" fill="#000" text-anchor="start" font-family="Liberation Sans, sans-serif" stroke="#000" stroke-width="0.15">KEGG_TOLL_LIKE_RECEPTOR_SIGNALING_PATHWAY</text>
<text x="0" y="0" font-size="46.0" fill="#000" stroke="#fff" stroke-width="0.8" font-family="Liberation Sans, sans-serif" transform="translate(12.9,1718.7) scale(1.020,1)">C</text>
<defs>
<filter id="nb" x="-50%" y="-50%" width="200%" height="200%"><feGaussianBlur stdDeviation="1.8"/></filter>
<linearGradient id="hl" x1="0" y1="0" x2="0" y2="1"><stop offset="0" stop-color="#fff" stop-opacity="0.95"/><stop offset="1" stop-color="#fff" stop-opacity="0.1"/></linearGradient>
<radialGradient id="gNPC1" cx="0.5" cy="0.78" r="0.75" fx="0.5" fy="0.85"><stop offset="0" stop-color="#F6D4DA"/><stop offset="0.55" stop-color="#E4AEB8"/><stop offset="1" stop-color="#A0606C"/></radialGradient>
<radialGradient id="gSIRT2" cx="0.5" cy="0.78" r="0.75" fx="0.5" fy="0.85"><stop offset="0" stop-color="#E2F0D0"/><stop offset="0.55" stop-color="#CCE2B4"/><stop offset="1" stop-color="#809E68"/></radialGradient>
<radialGradient id="gPELP1" cx="0.5" cy="0.78" r="0.75" fx="0.5" fy="0.85"><stop offset="0" stop-color="#F2E0CE"/><stop offset="0.55" stop-color="#E2C8AE"/><stop offset="1" stop-color="#A88A70"/></radialGradient>
<radialGradient id="gPIK3C3" cx="0.5" cy="0.78" r="0.75" fx="0.5" fy="0.85"><stop offset="0" stop-color="#D0EECC"/><stop offset="0.55" stop-color="#B4DEB0"/><stop offset="1" stop-color="#5E9A60"/></radialGradient>
<radialGradient id="gVMP1" cx="0.5" cy="0.78" r="0.75" fx="0.5" fy="0.85"><stop offset="0" stop-color="#CCC4F4"/><stop offset="0.55" stop-color="#ACA0E6"/><stop offset="1" stop-color="#5C4CA4"/></radialGradient>
<radialGradient id="gCASP4" cx="0.5" cy="0.78" r="0.75" fx="0.5" fy="0.85"><stop offset="0" stop-color="#F4AAAA"/><stop offset="0.55" stop-color="#E07C7C"/><stop offset="1" stop-color="#A02C2C"/></radialGradient>
<radialGradient id="gHGS" cx="0.5" cy="0.78" r="0.75" fx="0.5" fy="0.85"><stop offset="0" stop-color="#E0F4C8"/><stop offset="0.55" stop-color="#CCE8AC"/><stop offset="1" stop-color="#7EA45C"/></radialGradient>
<radialGradient id="gZFYVE1" cx="0.5" cy="0.78" r="0.75" fx="0.5" fy="0.85"><stop offset="0" stop-color="#C0DEF0"/><stop offset="0.55" stop-color="#98C4DE"/><stop offset="1" stop-color="#5688B0"/></radialGradient>
<radialGradient id="gBECN1" cx="0.5" cy="0.78" r="0.75" fx="0.5" fy="0.85"><stop offset="0" stop-color="#C4ECC8"/><stop offset="0.55" stop-color="#A2D8AA"/><stop offset="1" stop-color="#5E9E6E"/></radialGradient>
<radialGradient id="gEIF2AK3" cx="0.5" cy="0.78" r="0.75" fx="0.5" fy="0.85"><stop offset="0" stop-color="#B8EAD6"/><stop offset="0.55" stop-color="#94D6BC"/><stop offset="1" stop-color="#4C9E86"/></radialGradient>
<radialGradient id="gGABARAPL2" cx="0.5" cy="0.78" r="0.75" fx="0.5" fy="0.85"><stop offset="0" stop-color="#F4F0CC"/><stop offset="0.55" stop-color="#E2DCAE"/><stop offset="1" stop-color="#A09868"/></radialGradient>
<radialGradient id="gULK2" cx="0.5" cy="0.78" r="0.75" fx="0.5" fy="0.85"><stop offset="0" stop-color="#F2D4CA"/><stop offset="0.55" stop-color="#E2B8AA"/><stop offset="1" stop-color="#A47464"/></radialGradient>
<radialGradient id="gUVRAG" cx="0.5" cy="0.78" r="0.75" fx="0.5" fy="0.85"><stop offset="0" stop-color="#93A0E2"/><stop offset="0.55" stop-color="#6472C6"/><stop offset="1" stop-color="#26307E"/></radialGradient>
<radialGradient id="gVEGFA" cx="0.5" cy="0.78" r="0.75" fx="0.5" fy="0.85"><stop offset="0" stop-color="#F0F0CC"/><stop offset="0.55" stop-color="#DCDCAE"/><stop offset="1" stop-color="#9C9C6C"/></radialGradient>
<radialGradient id="gEDEM1" cx="0.5" cy="0.78" r="0.75" fx="0.5" fy="0.85"><stop offset="0" stop-color="#6CC4C6"/><stop offset="0.55" stop-color="#3CA0A4"/><stop offset="1" stop-color="#1C6A6E"/></radialGradient>
<radialGradient id="gBNIP3" cx="0.5" cy="0.78" r="0.75" fx="0.5" fy="0.85"><stop offset="0" stop-color="#D6F0CC"/><stop offset="0.55" stop-color="#BEE2B2"/><stop offset="1" stop-color="#76A66A"/></radialGradient>
<radialGradient id="gCALCOCO2" cx="0.5" cy="0.78" r="0.75" fx="0.5" fy="0.85"><stop offset="0" stop-color="#F8DCC2"/><stop offset="0.55" stop-color="#EAC2A0"/><stop offset="1" stop-color="#AC7E5C"/></radialGradient>
<radialGradient id="gCDKN1B" cx="0.5" cy="0.78" r="0.75" fx="0.5" fy="0.85"><stop offset="0" stop-color="#6CC46C"/><stop offset="0.55" stop-color="#42A046"/><stop offset="1" stop-color="#1E6822"/></radialGradient>
</defs>
<line x1="260.8" y1="1845.3" x2="149.6" y2="2131.7" stroke="#333333" stroke-width="1.85"/>
<line x1="257.8" y1="1844.1" x2="146.6" y2="2130.5" stroke="#D83CDC" stroke-width="1.85"/>
<line x1="254.8" y1="1842.9" x2="143.6" y2="2129.3" stroke="#BAD42C" stroke-width="1.85"/>
<line x1="261.3" y1="1840.8" x2="357.8" y2="1943.5" stroke="#BAD42C" stroke-width="1.85"/>
<line x1="259.0" y1="1843.0" x2="355.5" y2="1945.7" stroke="#333333" stroke-width="1.85"/>
<line x1="256.6" y1="1845.2" x2="353.1" y2="1947.9" stroke="#D83CDC" stroke-width="1.85"/>
<line x1="254.3" y1="1847.4" x2="350.8" y2="1950.1" stroke="#333333" stroke-width="1.85"/>
<line x1="259.1" y1="1843.2" x2="413.6" y2="2076.5" stroke="#BAD42C" stroke-width="1.85"/>
<line x1="256.5" y1="1845.0" x2="411.0" y2="2078.3" stroke="#333333" stroke-width="1.85"/>
<line x1="191.3" y1="1960.4" x2="354.0" y2="1943.6" stroke="#BAD42C" stroke-width="1.85"/>
<line x1="191.6" y1="1963.6" x2="354.3" y2="1946.8" stroke="#D83CDC" stroke-width="1.85"/>
<line x1="191.9" y1="1966.8" x2="354.6" y2="1950.0" stroke="#333333" stroke-width="1.85"/>
<line x1="192.8" y1="1962.6" x2="255.1" y2="2035.1" stroke="#333333" stroke-width="1.85"/>
<line x1="190.4" y1="1964.6" x2="252.7" y2="2037.1" stroke="#BAD42C" stroke-width="1.85"/>
<line x1="193.8" y1="1959.3" x2="414.5" y2="2073.1" stroke="#D83CDC" stroke-width="1.85"/>
<line x1="192.3" y1="1962.2" x2="413.0" y2="2076.0" stroke="#22B4DE" stroke-width="1.85"/>
<line x1="190.9" y1="1965.0" x2="411.6" y2="2078.8" stroke="#BAD42C" stroke-width="1.85"/>
<line x1="189.4" y1="1967.9" x2="410.1" y2="2081.7" stroke="#333333" stroke-width="1.85"/>
<line x1="193.1" y1="1964.0" x2="148.1" y2="2130.9" stroke="#333333" stroke-width="1.85"/>
<line x1="190.1" y1="1963.2" x2="145.1" y2="2130.1" stroke="#BAD42C" stroke-width="1.85"/>
<line x1="194.8" y1="1963.3" x2="216.5" y2="2192.4" stroke="#D83CDC" stroke-width="1.85"/>
<line x1="191.6" y1="1963.6" x2="213.3" y2="2192.7" stroke="#BAD42C" stroke-width="1.85"/>
<line x1="188.4" y1="1963.9" x2="210.1" y2="2193.0" stroke="#333333" stroke-width="1.85"/>
<line x1="193.0" y1="1962.8" x2="306.2" y2="2161.5" stroke="#BAD42C" stroke-width="1.85"/>
<line x1="190.2" y1="1964.4" x2="303.4" y2="2163.1" stroke="#333333" stroke-width="1.85"/>
<line x1="191.6" y1="1963.6" x2="269.8" y2="2273.6" stroke="#BAD42C" stroke-width="1.85"/>
<line x1="357.5" y1="1950.4" x2="257.1" y2="2039.7" stroke="#BAD42C" stroke-width="1.85"/>
<line x1="355.4" y1="1948.0" x2="255.0" y2="2037.3" stroke="#D83CDC" stroke-width="1.85"/>
<line x1="353.2" y1="1945.6" x2="252.8" y2="2034.9" stroke="#333333" stroke-width="1.85"/>
<line x1="351.1" y1="1943.2" x2="250.7" y2="2032.5" stroke="#333333" stroke-width="1.85"/>
<line x1="358.7" y1="1944.9" x2="416.7" y2="2075.5" stroke="#333333" stroke-width="1.85"/>
<line x1="355.8" y1="1946.2" x2="413.8" y2="2076.8" stroke="#D83CDC" stroke-width="1.85"/>
<line x1="352.8" y1="1947.4" x2="410.8" y2="2078.0" stroke="#22B4DE" stroke-width="1.85"/>
<line x1="349.9" y1="1948.7" x2="407.9" y2="2079.3" stroke="#BAD42C" stroke-width="1.85"/>
<line x1="355.0" y1="1943.7" x2="562.2" y2="1991.4" stroke="#333333" stroke-width="1.85"/>
<line x1="354.3" y1="1946.8" x2="561.5" y2="1994.5" stroke="#D83CDC" stroke-width="1.85"/>
<line x1="353.6" y1="1949.9" x2="560.8" y2="1997.6" stroke="#BAD42C" stroke-width="1.85"/>
<line x1="357.5" y1="1950.4" x2="149.8" y2="2134.1" stroke="#333333" stroke-width="1.85"/>
<line x1="355.4" y1="1948.0" x2="147.7" y2="2131.7" stroke="#D83CDC" stroke-width="1.85"/>
<line x1="353.2" y1="1945.6" x2="145.5" y2="2129.3" stroke="#22B4DE" stroke-width="1.85"/>
<line x1="351.1" y1="1943.2" x2="143.4" y2="2126.9" stroke="#BAD42C" stroke-width="1.85"/>
<line x1="358.5" y1="1949.2" x2="217.5" y2="2195.1" stroke="#333333" stroke-width="1.85"/>
<line x1="355.7" y1="1947.6" x2="214.7" y2="2193.5" stroke="#D83CDC" stroke-width="1.85"/>
<line x1="352.9" y1="1946.0" x2="211.9" y2="2191.9" stroke="#22B4DE" stroke-width="1.85"/>
<line x1="350.1" y1="1944.4" x2="209.1" y2="2190.3" stroke="#BAD42C" stroke-width="1.85"/>
<line x1="359.0" y1="1947.9" x2="309.5" y2="2163.4" stroke="#D83CDC" stroke-width="1.85"/>
<line x1="355.9" y1="1947.2" x2="306.4" y2="2162.7" stroke="#22B4DE" stroke-width="1.85"/>
<line x1="352.7" y1="1946.4" x2="303.2" y2="2161.9" stroke="#BAD42C" stroke-width="1.85"/>
<line x1="349.6" y1="1945.7" x2="300.1" y2="2161.2" stroke="#333333" stroke-width="1.85"/>
<line x1="354.3" y1="1946.8" x2="393.4" y2="2247.2" stroke="#BAD42C" stroke-width="1.85"/>
<line x1="354.3" y1="1946.8" x2="269.8" y2="2273.6" stroke="#BAD42C" stroke-width="1.85"/>
<line x1="254.7" y1="2033.0" x2="413.1" y2="2074.3" stroke="#D83CDC" stroke-width="1.85"/>
<line x1="253.9" y1="2036.1" x2="412.3" y2="2077.4" stroke="#333333" stroke-width="1.85"/>
<line x1="253.1" y1="2039.2" x2="411.5" y2="2080.5" stroke="#BAD42C" stroke-width="1.85"/>
<line x1="257.1" y1="2039.7" x2="149.8" y2="2134.1" stroke="#333333" stroke-width="1.85"/>
<line x1="255.0" y1="2037.3" x2="147.7" y2="2131.7" stroke="#D83CDC" stroke-width="1.85"/>
<line x1="252.8" y1="2034.9" x2="145.5" y2="2129.3" stroke="#22B4DE" stroke-width="1.85"/>
<line x1="250.7" y1="2032.5" x2="143.4" y2="2126.9" stroke="#BAD42C" stroke-width="1.85"/>
<line x1="255.4" y1="2036.5" x2="214.8" y2="2193.1" stroke="#333333" stroke-width="1.85"/>
<line x1="252.4" y1="2035.7" x2="211.8" y2="2192.3" stroke="#BAD42C" stroke-width="1.85"/>
<line x1="255.4" y1="2035.5" x2="306.3" y2="2161.7" stroke="#333333" stroke-width="1.85"/>
<line x1="252.4" y1="2036.7" x2="303.3" y2="2162.9" stroke="#BAD42C" stroke-width="1.85"/>
<line x1="253.9" y1="2036.1" x2="269.8" y2="2273.6" stroke="#BAD42C" stroke-width="1.85"/>
<line x1="410.7" y1="2077.0" x2="470.0" y2="1815.2" stroke="#BAD42C" stroke-width="1.85"/>
<line x1="413.9" y1="2077.8" x2="473.2" y2="1816.0" stroke="#333333" stroke-width="1.85"/>
<line x1="413.2" y1="2082.1" x2="147.5" y2="2135.2" stroke="#D83CDC" stroke-width="1.85"/>
<line x1="412.6" y1="2079.0" x2="146.9" y2="2132.1" stroke="#22B4DE" stroke-width="1.85"/>
<line x1="412.0" y1="2075.8" x2="146.3" y2="2128.9" stroke="#BAD42C" stroke-width="1.85"/>
<line x1="411.4" y1="2072.7" x2="145.7" y2="2125.8" stroke="#333333" stroke-width="1.85"/>
<line x1="414.7" y1="2081.6" x2="215.7" y2="2196.9" stroke="#D83CDC" stroke-width="1.85"/>
<line x1="413.1" y1="2078.8" x2="214.1" y2="2194.1" stroke="#22B4DE" stroke-width="1.85"/>
<line x1="411.5" y1="2076.0" x2="212.5" y2="2191.3" stroke="#BAD42C" stroke-width="1.85"/>
<line x1="409.9" y1="2073.2" x2="210.9" y2="2188.5" stroke="#333333" stroke-width="1.85"/>
<line x1="415.3" y1="2081.2" x2="307.8" y2="2166.1" stroke="#D83CDC" stroke-width="1.85"/>
<line x1="413.3" y1="2078.7" x2="305.8" y2="2163.6" stroke="#22B4DE" stroke-width="1.85"/>
<line x1="411.3" y1="2076.1" x2="303.8" y2="2161.0" stroke="#BAD42C" stroke-width="1.85"/>
<line x1="409.3" y1="2073.6" x2="301.8" y2="2158.5" stroke="#333333" stroke-width="1.85"/>
<line x1="413.9" y1="2077.6" x2="395.0" y2="2247.4" stroke="#333333" stroke-width="1.85"/>
<line x1="410.7" y1="2077.2" x2="391.8" y2="2247.0" stroke="#BAD42C" stroke-width="1.85"/>
<line x1="412.7" y1="2075.8" x2="663.4" y2="2136.4" stroke="#BAD42C" stroke-width="1.85"/>
<line x1="411.9" y1="2079.0" x2="662.6" y2="2139.6" stroke="#333333" stroke-width="1.85"/>
<line x1="412.3" y1="2077.4" x2="579.5" y2="2202.5" stroke="#BAD42C" stroke-width="1.85"/>
<line x1="412.3" y1="2077.4" x2="269.8" y2="2273.6" stroke="#BAD42C" stroke-width="1.85"/>
<line x1="558.8" y1="1992.7" x2="642.2" y2="1868.8" stroke="#BAD42C" stroke-width="1.85"/>
<line x1="561.5" y1="1994.5" x2="644.9" y2="1870.6" stroke="#D83CDC" stroke-width="1.85"/>
<line x1="564.2" y1="1996.3" x2="647.6" y2="1872.4" stroke="#333333" stroke-width="1.85"/>
<line x1="563.1" y1="1994.4" x2="581.1" y2="2202.4" stroke="#D83CDC" stroke-width="1.85"/>
<line x1="559.9" y1="1994.6" x2="577.9" y2="2202.6" stroke="#BAD42C" stroke-width="1.85"/>
<line x1="723.0" y1="1970.9" x2="663.0" y2="2138.0" stroke="#BAD42C" stroke-width="1.85"/>
<line x1="663.0" y1="2138.0" x2="579.5" y2="2202.5" stroke="#BAD42C" stroke-width="1.85"/>
<line x1="664.0" y1="2136.7" x2="769.0" y2="2217.1" stroke="#BAD42C" stroke-width="1.85"/>
<line x1="662.0" y1="2139.3" x2="767.0" y2="2219.7" stroke="#333333" stroke-width="1.85"/>
<line x1="579.9" y1="2204.1" x2="393.8" y2="2248.8" stroke="#BAD42C" stroke-width="1.85"/>
<line x1="579.1" y1="2200.9" x2="393.0" y2="2245.6" stroke="#333333" stroke-width="1.85"/>
<line x1="579.5" y1="2202.5" x2="514.1" y2="2334.2" stroke="#BAD42C" stroke-width="1.85"/>
<line x1="147.2" y1="2127.4" x2="305.4" y2="2159.2" stroke="#D83CDC" stroke-width="1.85"/>
<line x1="146.6" y1="2130.5" x2="304.8" y2="2162.3" stroke="#333333" stroke-width="1.85"/>
<line x1="146.0" y1="2133.6" x2="304.2" y2="2165.4" stroke="#BAD42C" stroke-width="1.85"/>
<line x1="149.9" y1="2127.0" x2="216.6" y2="2189.2" stroke="#D83CDC" stroke-width="1.85"/>
<line x1="147.7" y1="2129.3" x2="214.4" y2="2191.5" stroke="#22B4DE" stroke-width="1.85"/>
<line x1="145.5" y1="2131.7" x2="212.2" y2="2193.9" stroke="#333333" stroke-width="1.85"/>
<line x1="143.3" y1="2134.0" x2="210.0" y2="2196.2" stroke="#BAD42C" stroke-width="1.85"/>
<line x1="148.0" y1="2127.6" x2="394.8" y2="2244.3" stroke="#22B4DE" stroke-width="1.85"/>
<line x1="146.6" y1="2130.5" x2="393.4" y2="2247.2" stroke="#333333" stroke-width="1.85"/>
<line x1="145.2" y1="2133.4" x2="392.0" y2="2250.1" stroke="#BAD42C" stroke-width="1.85"/>
<line x1="149.0" y1="2128.4" x2="272.2" y2="2271.5" stroke="#D83CDC" stroke-width="1.85"/>
<line x1="146.6" y1="2130.5" x2="269.8" y2="2273.6" stroke="#333333" stroke-width="1.85"/>
<line x1="144.2" y1="2132.6" x2="267.4" y2="2275.7" stroke="#BAD42C" stroke-width="1.85"/>
<line x1="212.3" y1="2189.7" x2="303.8" y2="2159.3" stroke="#D83CDC" stroke-width="1.85"/>
<line x1="213.3" y1="2192.7" x2="304.8" y2="2162.3" stroke="#BAD42C" stroke-width="1.85"/>
<line x1="214.3" y1="2195.7" x2="305.8" y2="2165.3" stroke="#22B4DE" stroke-width="1.85"/>
<line x1="213.3" y1="2192.7" x2="393.4" y2="2247.2" stroke="#BAD42C" stroke-width="1.85"/>
<line x1="215.9" y1="2190.9" x2="272.4" y2="2271.8" stroke="#D83CDC" stroke-width="1.85"/>
<line x1="213.3" y1="2192.7" x2="269.8" y2="2273.6" stroke="#333333" stroke-width="1.85"/>
<line x1="210.7" y1="2194.5" x2="267.2" y2="2275.4" stroke="#BAD42C" stroke-width="1.85"/>
<line x1="304.8" y1="2162.3" x2="393.4" y2="2247.2" stroke="#BAD42C" stroke-width="1.85"/>
<line x1="306.3" y1="2162.8" x2="271.3" y2="2274.1" stroke="#BAD42C" stroke-width="1.85"/>
<line x1="303.3" y1="2161.8" x2="268.3" y2="2273.1" stroke="#BAD42C" stroke-width="1.85"/>
<line x1="269.8" y1="2273.6" x2="393.4" y2="2247.2" stroke="#BAD42C" stroke-width="1.85"/>
<circle cx="471.0" cy="1818.2" r="21.5" fill="#000" opacity="0.55" filter="url(#nb)"/>
<circle cx="471.6" cy="1815.6" r="21.4" fill="url(#gNPC1)" stroke="#A0606C" stroke-width="1.2"/>
<polyline points="462.9,1817.7 462.3,1818.3 463.4,1816.1 460.5,1817.8 459.2,1816.4 462.6,1816.3 465.1,1816.2 466.2,1814.4" fill="none" stroke="#B0409C" stroke-width="1.3" opacity="0.6" stroke-linejoin="round"/>
<polyline points="471.8,1823.2 472.2,1824.4 473.6,1822.2 475.5,1822.7 474.5,1820.3 477.1,1820.2 478.8,1822.1 480.4,1824.2" fill="none" stroke="#C050B0" stroke-width="1.3" opacity="0.6" stroke-linejoin="round"/>
<polyline points="466.4,1822.1 466.3,1824.2 469.0,1822.2 466.9,1820.8 470.2,1820.5 471.3,1819.5 471.6,1818.9 470.9,1819.3" fill="none" stroke="#9040A0" stroke-width="1.3" opacity="0.6" stroke-linejoin="round"/>
<polyline points="470.7,1823.8 472.1,1825.9 474.7,1826.8 476.1,1825.1 478.6,1826.8 481.5,1826.8 483.2,1825.4 485.6,1825.7" fill="none" stroke="#B0409C" stroke-width="1.3" opacity="0.6" stroke-linejoin="round"/>
<polyline points="464.0,1809.7 466.5,1812.1 464.1,1813.6 463.8,1811.9 462.7,1813.2 465.4,1810.9 466.4,1808.7 468.0,1807.8" fill="none" stroke="#C050B0" stroke-width="1.3" opacity="0.6" stroke-linejoin="round"/>
<polyline points="477.3,1825.1 477.6,1826.8 476.6,1824.7 477.5,1822.3 475.8,1821.9 476.8,1820.2 474.1,1822.0 473.1,1824.3" fill="none" stroke="#9040A0" stroke-width="1.3" opacity="0.6" stroke-linejoin="round"/>
<polyline points="477.7,1814.9 477.7,1815.0 478.9,1815.5 479.5,1816.1 482.6,1816.2 482.4,1817.3 481.0,1816.3 484.3,1816.4" fill="none" stroke="#B0409C" stroke-width="1.3" opacity="0.6" stroke-linejoin="round"/>
<polyline points="469.9,1808.8 469.6,1809.2 466.7,1809.8 467.8,1807.6 468.9,1807.4 470.3,1807.2 471.9,1808.4 469.1,1807.2" fill="none" stroke="#C050B0" stroke-width="1.3" opacity="0.6" stroke-linejoin="round"/>
<polyline points="472.7,1824.8 471.4,1824.6 472.2,1823.7 471.6,1822.7 471.0,1823.2 469.9,1822.6 472.0,1820.2 472.7,1821.4" fill="none" stroke="#9040A0" stroke-width="1.3" opacity="0.6" stroke-linejoin="round"/>
<polyline points="464.5,1812.3 466.8,1811.0 465.0,1810.7 466.5,1808.7 465.6,1807.9 468.0,1807.6 470.6,1807.2 469.8,1808.0" fill="none" stroke="#B0409C" stroke-width="1.3" opacity="0.6" stroke-linejoin="round"/>
<polyline points="477.4,1816.2 475.9,1814.3 476.3,1812.7 478.6,1814.4 476.8,1813.3 479.0,1814.0 481.3,1813.3 479.1,1812.2" fill="none" stroke="#C050B0" stroke-width="1.3" opacity="0.6" stroke-linejoin="round"/>
<polyline points="475.4,1813.2 474.6,1812.7 474.4,1812.3 477.3,1810.6 474.4,1812.8 477.1,1815.2 476.9,1817.5 479.9,1816.1" fill="none" stroke="#9040A0" stroke-width="1.3" opacity="0.6" stroke-linejoin="round"/>
<ellipse cx="471.6" cy="1801.0" rx="13.2" ry="5.0" fill="url(#hl)"/>
<circle cx="257.2" cy="1846.7" r="21.5" fill="#000" opacity="0.55" filter="url(#nb)"/>
<circle cx="257.8" cy="1844.1" r="21.4" fill="url(#gSIRT2)" stroke="#809E68" stroke-width="1.2"/>
<polyline points="260.5,1851.2 261.8,1851.3 260.7,1850.5 259.2,1848.3 260.0,1847.2 262.3,1845.0 265.1,1845.9 268.1,1847.9" fill="none" stroke="#A868B0" stroke-width="1.3" opacity="0.6" stroke-linejoin="round"/>
<polyline points="264.0,1846.8 261.0,1848.0 259.2,1847.0 260.5,1847.1 260.2,1849.3 261.1,1848.5 259.8,1850.4 259.9,1851.8" fill="none" stroke="#B080B8" stroke-width="1.3" opacity="0.6" stroke-linejoin="round"/>
<polyline points="251.7,1840.4 252.2,1842.0 250.3,1843.5 253.3,1845.0 255.6,1842.5 256.7,1844.3 254.0,1843.2 252.8,1843.3" fill="none" stroke="#9C70A8" stroke-width="1.3" opacity="0.6" stroke-linejoin="round"/>
<polyline points="253.3,1845.0 255.3,1842.6 252.7,1840.7 250.5,1838.5 253.8,1840.3 251.4,1840.3 250.4,1839.4 249.7,1840.1" fill="none" stroke="#A868B0" stroke-width="1.3" opacity="0.6" stroke-linejoin="round"/>
<polyline points="256.9,1843.2 255.2,1842.3 253.0,1842.6 254.6,1842.0 252.2,1840.4 251.6,1840.9 253.7,1840.3 255.9,1840.9" fill="none" stroke="#B080B8" stroke-width="1.3" opacity="0.6" stroke-linejoin="round"/>
<polyline points="253.5,1843.4 253.7,1844.4 253.4,1845.3 253.4,1844.1 253.9,1845.0 251.4,1844.7 251.1,1846.6 254.2,1845.9" fill="none" stroke="#9C70A8" stroke-width="1.3" opacity="0.6" stroke-linejoin="round"/>
<polyline points="263.9,1850.4 262.6,1850.2 260.4,1851.8 261.7,1853.7 263.9,1854.5 265.6,1854.9 263.3,1855.3 260.3,1853.5" fill="none" stroke="#A868B0" stroke-width="1.3" opacity="0.6" stroke-linejoin="round"/>
<polyline points="261.1,1837.8 258.7,1835.8 261.5,1835.7 258.6,1837.4 256.4,1839.1 257.8,1840.8 261.0,1841.2 263.2,1838.9" fill="none" stroke="#B080B8" stroke-width="1.3" opacity="0.6" stroke-linejoin="round"/>
<polyline points="261.0,1845.7 262.6,1843.7 264.5,1845.9 261.9,1845.0 262.6,1846.7 261.1,1845.1 259.8,1845.6 261.7,1845.1" fill="none" stroke="#9C70A8" stroke-width="1.3" opacity="0.6" stroke-linejoin="round"/>
<polyline points="252.0,1843.8 251.3,1843.4 248.8,1843.4 252.2,1842.9 254.0,1841.2 255.5,1842.5 256.9,1842.6 257.0,1843.3" fill="none" stroke="#A868B0" stroke-width="1.3" opacity="0.6" stroke-linejoin="round"/>
<polyline points="263.9,1839.6 261.5,1840.8 264.5,1840.9 264.4,1842.0 262.6,1840.9 260.9,1841.3 259.9,1840.0 261.4,1842.2" fill="none" stroke="#B080B8" stroke-width="1.3" opacity="0.6" stroke-linejoin="round"/>
<polyline points="250.4,1848.9 250.1,1850.7 250.9,1849.6 249.3,1847.2 249.4,1846.6 247.6,1845.9 246.7,1847.3 244.6,1849.7" fill="none" stroke="#9C70A8" stroke-width="1.3" opacity="0.6" stroke-linejoin="round"/>
<ellipse cx="257.8" cy="1829.5" rx="13.2" ry="5.0" fill="url(#hl)"/>
<circle cx="644.3" cy="1873.2" r="21.5" fill="#000" opacity="0.55" filter="url(#nb)"/>
<circle cx="644.9" cy="1870.6" r="21.4" fill="url(#gPELP1)" stroke="#A88A70" stroke-width="1.2"/>
<polyline points="641.6,1873.7 641.7,1875.3 644.0,1875.6 644.2,1876.7 646.7,1876.2 648.5,1878.5 648.5,1877.2 647.1,1878.3" fill="none" stroke="#E06030" stroke-width="1.3" opacity="0.6" stroke-linejoin="round"/>
<polyline points="646.0,1879.7 648.6,1878.4 646.8,1877.2 645.0,1878.2 647.6,1880.2 646.3,1881.8 645.3,1881.4 647.0,1879.3" fill="none" stroke="#40A040" stroke-width="1.3" opacity="0.6" stroke-linejoin="round"/>
<polyline points="633.0,1877.6 631.9,1876.9 632.6,1877.8 630.9,1876.9 630.9,1876.9 630.9,1877.3 634.1,1876.8 634.6,1874.9" fill="none" stroke="#4070D0" stroke-width="1.3" opacity="0.6" stroke-linejoin="round"/>
<polyline points="637.1,1874.8 634.8,1876.7 637.7,1874.7 640.8,1874.1 642.8,1875.4 641.8,1876.2 643.0,1877.8 641.7,1879.0" fill="none" stroke="#D0A020" stroke-width="1.3" opacity="0.6" stroke-linejoin="round"/>
<polyline points="652.4,1874.9 652.9,1873.0 653.1,1872.2 654.8,1873.1 655.5,1871.5 656.7,1872.2 654.8,1874.1 656.1,1872.3" fill="none" stroke="#E06030" stroke-width="1.3" opacity="0.6" stroke-linejoin="round"/>
<polyline points="651.8,1866.0 650.9,1867.1 651.8,1867.4 653.0,1867.1 652.1,1865.5 649.5,1866.6 651.4,1866.8 653.2,1866.1" fill="none" stroke="#40A040" stroke-width="1.3" opacity="0.6" stroke-linejoin="round"/>
<polyline points="636.9,1870.0 639.5,1867.8 639.8,1866.5 641.8,1865.8 641.0,1865.3 641.5,1866.6 640.8,1868.4 638.5,1867.2" fill="none" stroke="#4070D0" stroke-width="1.3" opacity="0.6" stroke-linejoin="round"/>
<polyline points="633.1,1865.5 635.2,1866.6 633.4,1865.1 633.1,1866.3 635.4,1867.5 636.3,1865.8 635.8,1864.2 636.3,1864.6" fill="none" stroke="#D0A020" stroke-width="1.3" opacity="0.6" stroke-linejoin="round"/>
<polyline points="635.4,1867.8 637.5,1865.5 639.7,1867.4 642.9,1866.8 643.5,1867.2 644.6,1869.6 646.1,1868.6 648.7,1868.5" fill="none" stroke="#E06030" stroke-width="1.3" opacity="0.6" stroke-linejoin="round"/>
<polyline points="644.4,1875.8 641.4,1877.2 642.7,1877.1 643.1,1876.9 641.3,1877.1 638.6,1877.1 639.8,1876.8 640.5,1879.1" fill="none" stroke="#40A040" stroke-width="1.3" opacity="0.6" stroke-linejoin="round"/>
<polyline points="650.9,1865.9 653.0,1866.5 650.4,1865.8 648.9,1863.7 649.4,1865.8 648.5,1867.7 650.0,1865.9 652.6,1866.4" fill="none" stroke="#4070D0" stroke-width="1.3" opacity="0.6" stroke-linejoin="round"/>
<polyline points="651.7,1875.6 653.5,1874.8 655.7,1877.0 658.3,1876.7 658.9,1876.6 656.6,1874.3 654.1,1872.8 652.2,1872.8" fill="none" stroke="#D0A020" stroke-width="1.3" opacity="0.6" stroke-linejoin="round"/>
<ellipse cx="644.9" cy="1856.0" rx="13.2" ry="5.0" fill="url(#hl)"/>
<circle cx="353.7" cy="1949.4" r="21.5" fill="#000" opacity="0.55" filter="url(#nb)"/>
<circle cx="354.3" cy="1946.8" r="21.4" fill="url(#gPIK3C3)" stroke="#5E9A60" stroke-width="1.2"/>
<polyline points="356.0,1948.8 355.7,1949.6 354.7,1949.4 356.6,1948.9 354.8,1950.9 356.5,1950.2 355.9,1950.4 356.7,1949.0" fill="none" stroke="#30B040" stroke-width="1.3" opacity="0.6" stroke-linejoin="round"/>
<polyline points="340.4,1943.3 342.5,1941.5 342.4,1940.0 340.8,1938.4 340.4,1938.4 340.3,1938.4 340.3,1938.4 340.3,1938.4" fill="none" stroke="#E08020" stroke-width="1.3" opacity="0.6" stroke-linejoin="round"/>
<polyline points="350.3,1946.7 351.9,1944.4 351.5,1943.9 348.7,1946.2 347.1,1944.2 347.2,1942.5 348.3,1941.7 346.1,1939.5" fill="none" stroke="#3060C0" stroke-width="1.3" opacity="0.6" stroke-linejoin="round"/>
<polyline points="356.6,1944.4 358.7,1944.2 361.8,1943.3 360.4,1942.1 362.7,1942.7 361.9,1940.7 363.4,1943.0 364.2,1940.6" fill="none" stroke="#40C060" stroke-width="1.3" opacity="0.6" stroke-linejoin="round"/>
<polyline points="341.0,1941.3 340.3,1939.0 340.3,1939.8 343.2,1938.4 346.5,1938.4 348.7,1940.5 351.8,1938.4 350.8,1938.9" fill="none" stroke="#30B040" stroke-width="1.3" opacity="0.6" stroke-linejoin="round"/>
<polyline points="361.5,1941.3 360.4,1943.0 358.2,1942.5 357.3,1943.4 360.4,1941.7 362.2,1942.9 364.6,1943.2 367.6,1942.5" fill="none" stroke="#E08020" stroke-width="1.3" opacity="0.6" stroke-linejoin="round"/>
<polyline points="349.6,1943.7 351.7,1943.6 350.4,1941.9 352.1,1942.4 353.7,1941.9 353.9,1940.1 355.5,1938.4 355.5,1939.7" fill="none" stroke="#3060C0" stroke-width="1.3" opacity="0.6" stroke-linejoin="round"/>
<polyline points="355.5,1941.4 354.0,1943.1 355.2,1945.0 357.9,1944.8 360.7,1946.0 359.9,1945.3 357.3,1944.8 360.5,1942.8" fill="none" stroke="#40C060" stroke-width="1.3" opacity="0.6" stroke-linejoin="round"/>
<polyline points="353.0,1941.7 350.6,1942.4 349.1,1940.1 347.1,1940.9 347.9,1938.4 346.4,1940.8 344.9,1941.1 344.6,1942.5" fill="none" stroke="#30B040" stroke-width="1.3" opacity="0.6" stroke-linejoin="round"/>
<polyline points="353.8,1953.0 354.3,1951.5 352.5,1949.4 354.8,1947.4 352.0,1949.8 350.3,1951.7 347.8,1951.6 346.3,1953.2" fill="none" stroke="#E08020" stroke-width="1.3" opacity="0.6" stroke-linejoin="round"/>
<polyline points="354.1,1950.6 356.0,1952.4 355.3,1953.0 355.2,1951.0 357.6,1951.5 359.9,1950.0 360.4,1949.8 362.1,1947.7" fill="none" stroke="#3060C0" stroke-width="1.3" opacity="0.6" stroke-linejoin="round"/>
<polyline points="348.1,1947.9 345.5,1948.2 347.3,1947.8 348.5,1948.3 346.9,1947.6 350.4,1946.8 350.2,1944.7 348.6,1943.0" fill="none" stroke="#40C060" stroke-width="1.3" opacity="0.6" stroke-linejoin="round"/>
<ellipse cx="354.3" cy="1932.2" rx="13.2" ry="5.0" fill="url(#hl)"/>
<circle cx="191.0" cy="1966.2" r="21.5" fill="#000" opacity="0.55" filter="url(#nb)"/>
<circle cx="191.6" cy="1963.6" r="21.4" fill="url(#gVMP1)" stroke="#5C4CA4" stroke-width="1.2"/>
<polyline points="196.0,1966.9 198.7,1969.4 199.7,1970.8 200.2,1970.4 200.6,1970.8 200.6,1970.7 200.6,1970.3 200.6,1970.8" fill="none" stroke="#3050D0" stroke-width="1.3" opacity="0.6" stroke-linejoin="round"/>
<polyline points="186.8,1969.2 185.0,1967.2 186.7,1966.1 187.1,1966.8 184.3,1968.1 183.1,1967.7 182.6,1968.9 184.5,1967.9" fill="none" stroke="#D04040" stroke-width="1.3" opacity="0.6" stroke-linejoin="round"/>
<polyline points="184.1,1962.3 183.8,1960.2 182.6,1961.5 184.2,1963.9 187.5,1965.8 186.9,1964.1 186.0,1963.9 186.4,1964.1" fill="none" stroke="#30A0A0" stroke-width="1.3" opacity="0.6" stroke-linejoin="round"/>
<polyline points="187.8,1968.3 186.6,1968.1 189.4,1969.7 188.3,1968.4 190.6,1965.9 188.4,1966.1 188.9,1964.4 186.2,1962.9" fill="none" stroke="#3050D0" stroke-width="1.3" opacity="0.6" stroke-linejoin="round"/>
<polyline points="193.7,1964.1 197.1,1965.6 200.4,1963.2 198.6,1960.8 198.4,1960.0 195.8,1960.2 193.4,1959.3 192.0,1960.8" fill="none" stroke="#D04040" stroke-width="1.3" opacity="0.6" stroke-linejoin="round"/>
<ellipse cx="191.6" cy="1949.0" rx="13.2" ry="5.0" fill="url(#hl)"/>
<circle cx="722.4" cy="1973.5" r="21.5" fill="#000" opacity="0.55" filter="url(#nb)"/>
<circle cx="723.0" cy="1970.9" r="21.4" fill="url(#gCASP4)" stroke="#A02C2C" stroke-width="1.2"/>
<polyline points="718.4,1968.3 715.7,1967.9 716.7,1968.8 719.7,1970.3 718.3,1968.5 720.2,1970.0 720.5,1971.6 721.1,1970.5" fill="none" stroke="#E08030" stroke-width="1.3" opacity="0.6" stroke-linejoin="round"/>
<polyline points="712.8,1964.2 714.0,1966.2 716.8,1966.0 718.2,1968.2 720.5,1968.7 720.2,1968.8 718.3,1967.2 719.7,1969.6" fill="none" stroke="#40A040" stroke-width="1.3" opacity="0.6" stroke-linejoin="round"/>
<polyline points="721.3,1970.8 720.5,1970.5 722.8,1970.3 726.0,1968.6 725.0,1968.7 724.7,1970.4 727.1,1972.6 728.1,1970.2" fill="none" stroke="#4060C0" stroke-width="1.3" opacity="0.6" stroke-linejoin="round"/>
<polyline points="721.9,1973.1 722.0,1972.0 723.6,1974.1 721.3,1974.9 720.7,1975.0 723.6,1977.3 724.7,1975.8 727.7,1974.2" fill="none" stroke="#C03030" stroke-width="1.3" opacity="0.6" stroke-linejoin="round"/>
<polyline points="717.6,1977.8 716.6,1976.7 719.8,1978.9 718.9,1978.3 717.7,1976.5 716.3,1978.9 713.9,1977.6 712.2,1975.5" fill="none" stroke="#E08030" stroke-width="1.3" opacity="0.6" stroke-linejoin="round"/>
<polyline points="720.8,1976.4 723.2,1977.0 725.6,1974.6 724.4,1976.9 721.8,1975.7 722.0,1974.5 722.5,1972.3 721.1,1974.6" fill="none" stroke="#40A040" stroke-width="1.3" opacity="0.6" stroke-linejoin="round"/>
<polyline points="712.2,1979.1 710.4,1981.6 711.8,1982.1 709.7,1979.9 711.6,1978.3 709.9,1979.9 712.6,1977.6 715.8,1977.8" fill="none" stroke="#4060C0" stroke-width="1.3" opacity="0.6" stroke-linejoin="round"/>
<polyline points="717.6,1965.7 717.1,1968.1 715.9,1966.3 713.9,1964.4 713.2,1966.5 710.7,1965.0 713.8,1967.4 717.1,1966.2" fill="none" stroke="#C03030" stroke-width="1.3" opacity="0.6" stroke-linejoin="round"/>
<polyline points="716.9,1979.9 717.1,1980.9 716.1,1978.5 715.4,1979.7 717.5,1980.1 717.5,1980.3 717.3,1980.4 719.8,1978.9" fill="none" stroke="#E08030" stroke-width="1.3" opacity="0.6" stroke-linejoin="round"/>
<polyline points="722.3,1979.6 724.8,1978.0 728.1,1979.7 726.2,1978.5 724.5,1976.3 727.9,1975.8 730.5,1973.9 727.6,1975.7" fill="none" stroke="#40A040" stroke-width="1.3" opacity="0.6" stroke-linejoin="round"/>
<polyline points="726.8,1980.6 728.2,1980.7 730.2,1978.6 730.7,1978.4 728.7,1978.9 727.8,1978.9 727.2,1978.0 726.5,1978.5" fill="none" stroke="#4060C0" stroke-width="1.3" opacity="0.6" stroke-linejoin="round"/>
<polyline points="731.0,1979.6 733.6,1981.3 732.4,1982.1 731.2,1980.2 731.4,1981.4 730.7,1982.1 729.5,1982.1 729.4,1982.0" fill="none" stroke="#C03030" stroke-width="1.3" opacity="0.6" stroke-linejoin="round"/>
<ellipse cx="723.0" cy="1956.3" rx="13.2" ry="5.0" fill="url(#hl)"/>
<circle cx="560.9" cy="1997.1" r="21.5" fill="#000" opacity="0.55" filter="url(#nb)"/>
<circle cx="561.5" cy="1994.5" r="21.4" fill="url(#gHGS)" stroke="#7EA45C" stroke-width="1.2"/>
<path d="M552.5,1998.5 Q561.5,1996.5 569.5,1988.5" fill="none" stroke="#70A030" stroke-width="1.2"/>
<ellipse cx="561.5" cy="1979.9" rx="13.2" ry="5.0" fill="url(#hl)"/>
<circle cx="253.3" cy="2038.7" r="21.5" fill="#000" opacity="0.55" filter="url(#nb)"/>
<circle cx="253.9" cy="2036.1" r="21.4" fill="url(#gZFYVE1)" stroke="#5688B0" stroke-width="1.2"/>
<polyline points="251.8,2043.8 255.2,2043.9 255.1,2044.5 252.5,2044.2 255.0,2045.5 252.4,2047.3 251.9,2047.3 251.3,2045.9" fill="none" stroke="#2060C0" stroke-width="1.3" opacity="0.6" stroke-linejoin="round"/>
<polyline points="252.2,2043.9 252.0,2045.8 253.6,2045.1 252.6,2045.1 252.2,2044.5 253.4,2046.4 254.2,2044.6 252.6,2043.9" fill="none" stroke="#30A060" stroke-width="1.3" opacity="0.6" stroke-linejoin="round"/>
<polyline points="253.7,2031.4 251.2,2030.5 250.0,2028.2 250.5,2030.3 251.0,2031.5 253.4,2033.2 256.3,2032.9 257.8,2031.0" fill="none" stroke="#D04040" stroke-width="1.3" opacity="0.6" stroke-linejoin="round"/>
<polyline points="259.6,2035.5 259.7,2037.4 258.6,2035.9 260.9,2036.3 258.5,2034.0 257.8,2031.5 260.2,2029.9 258.9,2029.4" fill="none" stroke="#A0A020" stroke-width="1.3" opacity="0.6" stroke-linejoin="round"/>
<polyline points="251.4,2036.4 252.4,2037.2 252.3,2035.1 255.6,2036.1 253.2,2035.8 255.1,2038.3 252.5,2035.8 252.6,2035.4" fill="none" stroke="#2060C0" stroke-width="1.3" opacity="0.6" stroke-linejoin="round"/>
<polyline points="259.9,2043.0 259.1,2042.6 259.9,2044.5 258.2,2044.0 255.8,2044.7 252.9,2046.8 253.3,2047.2 250.9,2045.9" fill="none" stroke="#30A060" stroke-width="1.3" opacity="0.6" stroke-linejoin="round"/>
<polyline points="250.4,2043.5 250.9,2042.4 254.3,2043.2 254.7,2041.7 253.7,2043.7 251.5,2043.9 252.6,2043.2 254.6,2045.2" fill="none" stroke="#D04040" stroke-width="1.3" opacity="0.6" stroke-linejoin="round"/>
<polyline points="259.1,2041.5 257.4,2039.3 257.2,2038.4 255.5,2040.2 253.9,2041.8 257.0,2039.9 259.9,2039.4 258.3,2037.8" fill="none" stroke="#A0A020" stroke-width="1.3" opacity="0.6" stroke-linejoin="round"/>
<polyline points="240.7,2037.5 240.2,2039.2 242.7,2037.0 242.3,2036.5 240.4,2035.2 239.9,2036.2 239.9,2034.2 239.9,2034.0" fill="none" stroke="#2060C0" stroke-width="1.3" opacity="0.6" stroke-linejoin="round"/>
<polyline points="252.6,2033.2 254.1,2031.8 255.5,2032.3 253.6,2033.6 253.2,2033.8 254.1,2034.4 253.9,2032.2 256.0,2034.0" fill="none" stroke="#30A060" stroke-width="1.3" opacity="0.6" stroke-linejoin="round"/>
<polyline points="250.9,2038.8 249.6,2040.8 251.1,2039.4 253.4,2041.9 252.6,2044.3 252.8,2042.7 254.4,2041.9 256.2,2042.3" fill="none" stroke="#D04040" stroke-width="1.3" opacity="0.6" stroke-linejoin="round"/>
<polyline points="242.3,2038.0 244.8,2037.9 245.3,2039.7 245.3,2039.6 246.0,2041.3 244.4,2039.2 246.3,2039.5 245.3,2041.5" fill="none" stroke="#A0A020" stroke-width="1.3" opacity="0.6" stroke-linejoin="round"/>
<ellipse cx="253.9" cy="2021.5" rx="13.2" ry="5.0" fill="url(#hl)"/>
<circle cx="411.7" cy="2080.0" r="21.5" fill="#000" opacity="0.55" filter="url(#nb)"/>
<circle cx="412.3" cy="2077.4" r="21.4" fill="url(#gBECN1)" stroke="#5E9E6E" stroke-width="1.2"/>
<polyline points="401.3,2080.4 402.1,2082.0 402.9,2079.9 403.7,2078.0 404.4,2079.8 405.2,2081.1 406.0,2078.8 406.8,2077.1 407.6,2079.1 408.4,2080.2 409.2,2077.7 409.9,2076.3 410.7,2078.4 411.5,2079.3 412.3,2076.7 413.1,2075.6 413.9,2077.8 414.7,2078.3 415.4,2075.6 416.2,2074.8 417.0,2077.1 417.8,2077.4 418.6,2074.6 419.4,2074.1 420.2,2076.4 420.9,2076.4 421.7,2073.6 422.5,2073.3 423.3,2075.7" fill="none" stroke="#18C018" stroke-width="2.2" opacity="0.9"/>
<ellipse cx="412.3" cy="2062.8" rx="13.2" ry="5.0" fill="url(#hl)"/>
<circle cx="662.4" cy="2140.6" r="21.5" fill="#000" opacity="0.55" filter="url(#nb)"/>
<circle cx="663.0" cy="2138.0" r="21.4" fill="url(#gEIF2AK3)" stroke="#4C9E86" stroke-width="1.2"/>
<polyline points="668.8,2140.1 672.2,2141.8 674.1,2140.7 671.2,2141.6 673.0,2140.9 673.1,2141.2 671.7,2142.2 672.3,2141.6" fill="none" stroke="#E08020" stroke-width="1.3" opacity="0.6" stroke-linejoin="round"/>
<polyline points="651.5,2140.3 650.5,2141.4 649.0,2140.9 649.0,2140.4 649.7,2138.5 649.0,2138.4 649.0,2138.4 649.0,2136.4" fill="none" stroke="#30A050" stroke-width="1.3" opacity="0.6" stroke-linejoin="round"/>
<polyline points="661.0,2146.5 663.7,2146.6 663.3,2144.4 662.1,2143.5 665.2,2141.6 668.3,2141.5 668.2,2140.3 671.4,2138.7" fill="none" stroke="#3070C0" stroke-width="1.3" opacity="0.6" stroke-linejoin="round"/>
<polyline points="661.8,2139.6 660.1,2138.2 663.5,2139.6 665.3,2141.7 662.9,2142.7 664.8,2141.3 664.8,2143.7 663.9,2145.0" fill="none" stroke="#C04040" stroke-width="1.3" opacity="0.6" stroke-linejoin="round"/>
<polyline points="652.7,2142.2 651.5,2142.3 650.9,2144.1 652.7,2144.1 654.2,2143.8 656.4,2142.6 656.9,2143.0 656.5,2140.7" fill="none" stroke="#E08020" stroke-width="1.3" opacity="0.6" stroke-linejoin="round"/>
<polyline points="652.8,2141.8 651.2,2143.1 651.5,2145.3 654.0,2146.5 653.4,2144.2 654.0,2145.4 657.0,2143.9 655.0,2146.3" fill="none" stroke="#30A050" stroke-width="1.3" opacity="0.6" stroke-linejoin="round"/>
<polyline points="665.6,2139.1 667.4,2137.4 667.9,2138.2 668.8,2136.5 666.7,2137.2 669.5,2135.4 666.5,2133.3 668.6,2132.7" fill="none" stroke="#3070C0" stroke-width="1.3" opacity="0.6" stroke-linejoin="round"/>
<polyline points="659.2,2147.7 660.2,2146.5 661.7,2144.0 660.6,2145.0 658.7,2142.7 659.0,2141.8 662.4,2139.8 664.6,2139.3" fill="none" stroke="#C04040" stroke-width="1.3" opacity="0.6" stroke-linejoin="round"/>
<polyline points="667.0,2138.5 668.4,2137.6 666.8,2137.4 669.0,2136.6 667.5,2136.2 665.2,2135.3 665.9,2135.5 666.8,2134.4" fill="none" stroke="#E08020" stroke-width="1.3" opacity="0.6" stroke-linejoin="round"/>
<polyline points="649.6,2131.4 649.0,2129.9 649.7,2129.6 651.7,2130.1 653.0,2131.3 653.3,2130.9 652.4,2129.6 654.5,2129.6" fill="none" stroke="#30A050" stroke-width="1.3" opacity="0.6" stroke-linejoin="round"/>
<polyline points="651.2,2146.6 652.0,2147.2 651.9,2145.3 655.4,2143.7 654.7,2146.2 652.5,2146.2 652.7,2144.9 655.7,2144.5" fill="none" stroke="#3070C0" stroke-width="1.3" opacity="0.6" stroke-linejoin="round"/>
<polyline points="649.3,2139.0 649.0,2140.0 651.6,2142.0 649.0,2142.9 649.0,2142.8 649.0,2141.8 649.0,2142.4 649.0,2144.7" fill="none" stroke="#C04040" stroke-width="1.3" opacity="0.6" stroke-linejoin="round"/>
<ellipse cx="663.0" cy="2123.4" rx="13.2" ry="5.0" fill="url(#hl)"/>
<circle cx="146.0" cy="2133.1" r="21.5" fill="#000" opacity="0.55" filter="url(#nb)"/>
<circle cx="146.6" cy="2130.5" r="21.4" fill="url(#gGABARAPL2)" stroke="#A09868" stroke-width="1.2"/>
<polyline points="133.6,2139.7 132.6,2137.6 134.4,2137.8 136.4,2137.8 137.5,2135.7 138.9,2135.8 142.2,2133.3 139.6,2134.2" fill="none" stroke="#C04890" stroke-width="1.3" opacity="0.6" stroke-linejoin="round"/>
<polyline points="153.3,2130.6 155.0,2130.9 154.5,2130.7 155.4,2128.4 154.4,2129.5 153.1,2129.4 151.8,2128.7 153.0,2129.9" fill="none" stroke="#D060A0" stroke-width="1.3" opacity="0.6" stroke-linejoin="round"/>
<polyline points="154.0,2131.5 152.4,2130.7 149.7,2129.4 150.5,2129.9 149.1,2128.4 146.7,2126.7 147.0,2125.5 149.7,2125.8" fill="none" stroke="#C04890" stroke-width="1.3" opacity="0.6" stroke-linejoin="round"/>
<polyline points="140.2,2130.7 137.5,2131.9 139.4,2131.2 141.1,2130.1 139.5,2128.7 137.8,2129.3 139.0,2130.4 136.6,2131.7" fill="none" stroke="#D060A0" stroke-width="1.3" opacity="0.6" stroke-linejoin="round"/>
<polyline points="143.3,2129.9 143.6,2129.5 141.9,2129.0 143.1,2130.1 146.0,2128.5 148.8,2130.0 150.5,2132.4 148.4,2133.8" fill="none" stroke="#C04890" stroke-width="1.3" opacity="0.6" stroke-linejoin="round"/>
<polyline points="152.7,2125.6 153.6,2127.8 152.5,2129.6 155.4,2129.2 153.4,2127.8 155.7,2127.4 154.8,2127.1 157.8,2125.9" fill="none" stroke="#D060A0" stroke-width="1.3" opacity="0.6" stroke-linejoin="round"/>
<polyline points="133.0,2139.4 132.6,2138.9 135.9,2137.8 133.5,2139.7 132.6,2138.3 135.7,2137.0 138.6,2136.1 137.5,2134.7" fill="none" stroke="#C04890" stroke-width="1.3" opacity="0.6" stroke-linejoin="round"/>
<polyline points="144.7,2132.9 144.3,2132.9 143.3,2134.6 146.3,2135.9 148.7,2133.8 147.3,2132.3 145.3,2134.6 148.2,2136.7" fill="none" stroke="#D060A0" stroke-width="1.3" opacity="0.6" stroke-linejoin="round"/>
<polyline points="145.1,2125.5 144.9,2123.2 147.8,2122.1 146.6,2124.3 144.9,2126.4 144.0,2127.3 141.6,2129.3 141.2,2128.5" fill="none" stroke="#C04890" stroke-width="1.3" opacity="0.6" stroke-linejoin="round"/>
<polyline points="147.3,2133.5 145.9,2131.6 146.6,2129.2 149.3,2128.4 147.4,2127.6 145.1,2126.7 145.7,2126.2 144.8,2125.1" fill="none" stroke="#D060A0" stroke-width="1.3" opacity="0.6" stroke-linejoin="round"/>
<polyline points="143.5,2136.6 143.3,2137.9 143.5,2136.0 141.6,2137.8 141.7,2137.2 142.1,2138.9 141.5,2138.2 140.9,2135.8" fill="none" stroke="#C04890" stroke-width="1.3" opacity="0.6" stroke-linejoin="round"/>
<polyline points="144.8,2131.5 145.0,2131.3 145.1,2132.4 143.3,2134.8 141.1,2136.6 139.2,2138.1 137.9,2136.0 138.4,2137.7" fill="none" stroke="#D060A0" stroke-width="1.3" opacity="0.6" stroke-linejoin="round"/>
<ellipse cx="146.6" cy="2115.9" rx="13.2" ry="5.0" fill="url(#hl)"/>
<circle cx="304.2" cy="2164.9" r="21.5" fill="#000" opacity="0.55" filter="url(#nb)"/>
<circle cx="304.8" cy="2162.3" r="21.4" fill="url(#gULK2)" stroke="#A47464" stroke-width="1.2"/>
<polyline points="309.7,2170.0 313.1,2167.8 312.6,2165.8 314.5,2165.6 316.3,2167.1 318.8,2168.0 318.8,2168.2 316.3,2170.2" fill="none" stroke="#4060C0" stroke-width="1.3" opacity="0.6" stroke-linejoin="round"/>
<polyline points="292.8,2156.7 295.2,2155.6 296.5,2153.9 294.9,2155.0 292.2,2155.0 295.3,2153.9 296.8,2155.1 297.9,2156.5" fill="none" stroke="#30A040" stroke-width="1.3" opacity="0.6" stroke-linejoin="round"/>
<polyline points="306.4,2155.5 304.7,2155.7 308.0,2154.3 308.8,2153.9 311.3,2153.9 311.7,2154.7 309.6,2155.9 311.8,2157.7" fill="none" stroke="#E0A020" stroke-width="1.3" opacity="0.6" stroke-linejoin="round"/>
<polyline points="297.1,2159.2 295.2,2161.2 295.0,2160.7 295.4,2161.7 294.5,2160.9 296.5,2162.2 295.4,2160.1 298.4,2161.3" fill="none" stroke="#E05020" stroke-width="1.3" opacity="0.6" stroke-linejoin="round"/>
<polyline points="304.1,2162.1 307.3,2161.8 305.8,2159.8 305.0,2160.3 304.4,2162.5 305.6,2162.3 306.9,2162.8 307.9,2162.8" fill="none" stroke="#4060C0" stroke-width="1.3" opacity="0.6" stroke-linejoin="round"/>
<polyline points="302.5,2163.6 304.9,2162.0 307.0,2161.0 309.5,2158.9 309.7,2158.6 311.3,2157.1 310.0,2155.3 310.7,2155.6" fill="none" stroke="#30A040" stroke-width="1.3" opacity="0.6" stroke-linejoin="round"/>
<polyline points="290.8,2158.3 290.8,2160.6 290.8,2160.9 290.8,2161.7 293.1,2162.6 290.8,2162.3 291.0,2160.0 293.1,2159.1" fill="none" stroke="#E0A020" stroke-width="1.3" opacity="0.6" stroke-linejoin="round"/>
<polyline points="297.4,2165.8 298.2,2165.8 300.8,2165.9 300.0,2163.7 300.6,2163.0 301.1,2162.3 298.1,2159.9 296.1,2157.9" fill="none" stroke="#E05020" stroke-width="1.3" opacity="0.6" stroke-linejoin="round"/>
<polyline points="309.9,2165.1 308.4,2166.1 309.5,2163.9 311.4,2162.6 314.9,2160.8 313.8,2159.5 316.4,2161.1 317.1,2159.4" fill="none" stroke="#4060C0" stroke-width="1.3" opacity="0.6" stroke-linejoin="round"/>
<polyline points="300.4,2167.1 297.8,2169.2 300.2,2171.4 301.8,2171.9 305.1,2170.8 304.1,2168.9 302.3,2170.4 299.9,2171.6" fill="none" stroke="#30A040" stroke-width="1.3" opacity="0.6" stroke-linejoin="round"/>
<polyline points="299.7,2170.0 301.6,2171.0 304.1,2168.7 302.8,2168.0 302.6,2168.9 305.3,2170.1 308.4,2171.1 307.7,2171.1" fill="none" stroke="#E0A020" stroke-width="1.3" opacity="0.6" stroke-linejoin="round"/>
<polyline points="307.6,2169.0 307.0,2168.3 308.0,2166.9 310.7,2164.4 311.9,2164.3 310.2,2164.7 310.3,2167.0 313.0,2167.4" fill="none" stroke="#E05020" stroke-width="1.3" opacity="0.6" stroke-linejoin="round"/>
<ellipse cx="304.8" cy="2147.7" rx="13.2" ry="5.0" fill="url(#hl)"/>
<circle cx="212.7" cy="2195.3" r="21.5" fill="#000" opacity="0.55" filter="url(#nb)"/>
<circle cx="213.3" cy="2192.7" r="21.4" fill="url(#gUVRAG)" stroke="#26307E" stroke-width="1.2"/>
<polyline points="215.3,2180.7 216.5,2181.3 214.6,2181.9 213.5,2182.5 215.3,2183.1 215.5,2183.7 213.3,2184.3 213.2,2184.9 215.1,2185.5 214.3,2186.1 212.2,2186.7 213.2,2187.3 214.6,2187.9 212.9,2188.5 211.5,2189.1 213.2,2189.7 213.7,2190.3 211.5,2190.9 211.1,2191.5 213.1,2192.1 212.5,2192.7 210.4,2193.3 211.0,2193.9 212.7,2194.5 211.2,2195.1 209.5,2195.7 211.1,2196.3 211.9,2196.9 209.8,2197.5 209.1,2198.1 211.0,2198.7 210.8,2199.3 208.5,2199.9 208.9,2200.5 210.7,2201.1 209.4,2201.7 207.6,2202.3 208.9,2202.9 210.0,2203.5 208.0,2204.1 207.0,2204.7" fill="none" stroke="#A01850" stroke-width="1.4" opacity="0.9"/>
<ellipse cx="213.3" cy="2178.1" rx="13.2" ry="5.0" fill="url(#hl)"/>
<circle cx="578.9" cy="2205.1" r="21.5" fill="#000" opacity="0.55" filter="url(#nb)"/>
<circle cx="579.5" cy="2202.5" r="21.4" fill="url(#gVEGFA)" stroke="#9C9C6C" stroke-width="1.2"/>
<polyline points="583.0,2207.5 581.1,2209.2 583.5,2209.7 585.5,2209.2 583.8,2209.7 582.2,2209.7 582.9,2209.7 582.2,2208.7" fill="none" stroke="#E08020" stroke-width="1.3" opacity="0.6" stroke-linejoin="round"/>
<polyline points="583.5,2205.2 583.0,2205.5 582.8,2206.2 583.2,2205.1 586.5,2207.0 588.5,2205.9 586.7,2207.1 588.5,2207.8" fill="none" stroke="#30A050" stroke-width="1.3" opacity="0.6" stroke-linejoin="round"/>
<polyline points="573.6,2205.8 574.0,2205.1 574.8,2204.9 576.0,2206.1 579.4,2204.2 580.1,2206.4 581.4,2206.8 583.9,2204.5" fill="none" stroke="#3070C0" stroke-width="1.3" opacity="0.6" stroke-linejoin="round"/>
<polyline points="581.9,2204.7 582.7,2203.8 583.7,2201.9 584.2,2200.7 587.2,2202.2 587.3,2203.5 586.8,2203.6 584.8,2205.4" fill="none" stroke="#D04040" stroke-width="1.3" opacity="0.6" stroke-linejoin="round"/>
<polyline points="581.5,2206.2 579.0,2207.8 576.1,2208.1 576.3,2205.9 576.0,2207.9 577.1,2206.9 579.4,2206.2 582.2,2205.7" fill="none" stroke="#E08020" stroke-width="1.3" opacity="0.6" stroke-linejoin="round"/>
<ellipse cx="579.5" cy="2187.9" rx="13.2" ry="5.0" fill="url(#hl)"/>
<circle cx="767.4" cy="2221.0" r="21.5" fill="#000" opacity="0.55" filter="url(#nb)"/>
<circle cx="768.0" cy="2218.4" r="21.4" fill="url(#gEDEM1)" stroke="#1C6A6E" stroke-width="1.2"/>
<polyline points="755.7,2227.7 754.0,2226.5 756.0,2224.6 756.5,2226.4 757.4,2225.6 759.3,2227.2 760.1,2227.9 759.2,2227.4" fill="none" stroke="#30A040" stroke-width="1.3" opacity="0.6" stroke-linejoin="round"/>
<polyline points="776.2,2227.7 773.2,2226.2 771.7,2227.7 770.0,2226.0 772.0,2224.4 775.3,2224.1 778.2,2225.7 776.5,2227.2" fill="none" stroke="#3070C0" stroke-width="1.3" opacity="0.6" stroke-linejoin="round"/>
<polyline points="763.3,2215.1 760.6,2216.1 761.2,2215.2 763.7,2213.6 763.5,2211.6 762.8,2213.5 763.1,2211.8 761.6,2212.5" fill="none" stroke="#60C060" stroke-width="1.3" opacity="0.6" stroke-linejoin="round"/>
<polyline points="760.2,2226.3 757.6,2228.1 758.7,2229.6 758.0,2227.4 756.1,2228.1 754.0,2226.1 756.1,2228.0 758.6,2229.6" fill="none" stroke="#30A040" stroke-width="1.3" opacity="0.6" stroke-linejoin="round"/>
<polyline points="766.4,2226.1 768.0,2226.4 767.7,2224.0 765.3,2222.8 765.3,2220.9 768.6,2221.2 770.4,2223.2 768.9,2225.1" fill="none" stroke="#3070C0" stroke-width="1.3" opacity="0.6" stroke-linejoin="round"/>
<polyline points="775.5,2215.9 773.3,2217.4 776.1,2218.9 775.7,2219.4 773.5,2218.1 773.2,2219.3 770.8,2221.4 767.9,2223.8" fill="none" stroke="#60C060" stroke-width="1.3" opacity="0.6" stroke-linejoin="round"/>
<polyline points="759.3,2225.2 761.6,2227.4 761.7,2228.4 760.6,2229.6 758.3,2229.6 759.1,2227.4 762.3,2226.5 759.7,2225.3" fill="none" stroke="#30A040" stroke-width="1.3" opacity="0.6" stroke-linejoin="round"/>
<polyline points="754.6,2216.1 756.2,2218.6 757.3,2220.3 759.7,2221.4 759.2,2220.2 757.2,2220.4 755.5,2221.6 754.6,2222.0" fill="none" stroke="#3070C0" stroke-width="1.3" opacity="0.6" stroke-linejoin="round"/>
<polyline points="766.2,2221.9 764.3,2220.7 765.7,2219.3 767.1,2221.6 766.6,2223.9 767.6,2226.2 768.0,2227.4 769.5,2225.9" fill="none" stroke="#60C060" stroke-width="1.3" opacity="0.6" stroke-linejoin="round"/>
<polyline points="765.6,2221.2 765.6,2222.0 768.5,2223.4 770.8,2221.7 772.4,2222.3 775.5,2219.8 773.6,2222.2 773.0,2223.2" fill="none" stroke="#30A040" stroke-width="1.3" opacity="0.6" stroke-linejoin="round"/>
<polyline points="767.3,2218.1 767.1,2218.4 770.5,2218.6 772.6,2217.6 774.3,2218.1 776.1,2220.0 773.6,2222.3 774.6,2221.1" fill="none" stroke="#3070C0" stroke-width="1.3" opacity="0.6" stroke-linejoin="round"/>
<polyline points="764.4,2213.0 762.9,2214.7 764.5,2216.5 762.6,2214.6 762.0,2214.6 763.7,2213.6 765.5,2214.0 764.3,2215.4" fill="none" stroke="#60C060" stroke-width="1.3" opacity="0.6" stroke-linejoin="round"/>
<ellipse cx="768.0" cy="2203.8" rx="13.2" ry="5.0" fill="url(#hl)"/>
<circle cx="392.8" cy="2249.8" r="21.5" fill="#000" opacity="0.55" filter="url(#nb)"/>
<circle cx="393.4" cy="2247.2" r="21.4" fill="url(#gBNIP3)" stroke="#76A66A" stroke-width="1.2"/>
<polyline points="382.4,2250.2 383.2,2251.8 384.0,2249.7 384.8,2247.8 385.5,2249.6 386.3,2250.9 387.1,2248.6 387.9,2246.9 388.7,2248.9 389.5,2250.0 390.3,2247.5 391.0,2246.1 391.8,2248.2 392.6,2249.1 393.4,2246.5 394.2,2245.4 395.0,2247.6 395.8,2248.1 396.5,2245.4 397.3,2244.6 398.1,2246.9 398.9,2247.2 399.7,2244.4 400.5,2243.9 401.3,2246.2 402.0,2246.2 402.8,2243.4 403.6,2243.1 404.4,2245.5" fill="none" stroke="#8C50A0" stroke-width="1.3" opacity="0.9"/>
<ellipse cx="393.4" cy="2232.6" rx="13.2" ry="5.0" fill="url(#hl)"/>
<circle cx="269.2" cy="2276.2" r="21.5" fill="#000" opacity="0.55" filter="url(#nb)"/>
<circle cx="269.8" cy="2273.6" r="21.4" fill="url(#gCALCOCO2)" stroke="#AC7E5C" stroke-width="1.2"/>
<path d="M265.8,2265.6 c3,-2 5,2 3,5 c-2,3 -5,4 -2,7 c2,2 5,0 7,2" fill="none" stroke="#D05838" stroke-width="1.3"/>
<ellipse cx="269.8" cy="2259.0" rx="13.2" ry="5.0" fill="url(#hl)"/>
<circle cx="513.5" cy="2336.8" r="21.5" fill="#000" opacity="0.55" filter="url(#nb)"/>
<circle cx="514.1" cy="2334.2" r="21.4" fill="url(#gCDKN1B)" stroke="#1E6822" stroke-width="1.2"/>
<polyline points="506.2,2336.1 505.1,2333.8 505.2,2333.9 506.2,2333.3 509.2,2334.7 507.2,2332.2 510.5,2331.8 508.2,2330.2" fill="none" stroke="#2060A0" stroke-width="1.3" opacity="0.6" stroke-linejoin="round"/>
<polyline points="515.2,2331.6 514.6,2332.5 513.9,2333.3 517.1,2334.7 518.1,2335.4 517.2,2336.1 518.4,2336.5 518.6,2337.7" fill="none" stroke="#30A040" stroke-width="1.3" opacity="0.6" stroke-linejoin="round"/>
<polyline points="508.0,2337.4 511.4,2335.1 510.0,2337.5 507.6,2339.1 508.4,2337.0 509.4,2334.5 512.0,2333.5 515.0,2335.5" fill="none" stroke="#2060A0" stroke-width="1.3" opacity="0.6" stroke-linejoin="round"/>
<polyline points="507.1,2334.1 505.1,2335.3 505.1,2333.2 505.1,2335.0 505.1,2334.1 505.1,2334.4 505.1,2336.6 505.1,2336.5" fill="none" stroke="#30A040" stroke-width="1.3" opacity="0.6" stroke-linejoin="round"/>
<polyline points="517.5,2332.3 515.6,2334.0 514.7,2336.0 517.0,2335.3 516.2,2333.3 518.9,2333.1 518.1,2331.4 516.6,2333.3" fill="none" stroke="#2060A0" stroke-width="1.3" opacity="0.6" stroke-linejoin="round"/>
<ellipse cx="514.1" cy="2319.6" rx="13.2" ry="5.0" fill="url(#hl)"/>
<text x="491.0" y="1796.2" font-size="13.6" fill="#fff" stroke="#fff" stroke-width="3.2" stroke-opacity="0.85" font-family="Liberation Sans, sans-serif">NPC1</text>
<text x="491.0" y="1796.2" font-size="13.6" fill="#111" stroke="#111" stroke-width="0.3" font-family="Liberation Sans, sans-serif">NPC1</text>
<text x="277.7" y="1825.3" font-size="13.6" fill="#fff" stroke="#fff" stroke-width="3.2" stroke-opacity="0.85" font-family="Liberation Sans, sans-serif">SIRT2</text>
<text x="277.7" y="1825.3" font-size="13.6" fill="#111" stroke="#111" stroke-width="0.3" font-family="Liberation Sans, sans-serif">SIRT2</text>
<text x="663.8" y="1850.9" font-size="13.6" fill="#fff" stroke="#fff" stroke-width="3.2" stroke-opacity="0.85" font-family="Liberation Sans, sans-serif">PELP1</text>
<text x="663.8" y="1850.9" font-size="13.6" fill="#111" stroke="#111" stroke-width="0.3" font-family="Liberation Sans, sans-serif">PELP1</text>
<text x="373.9" y="1927.5" font-size="13.6" fill="#fff" stroke="#fff" stroke-width="3.2" stroke-opacity="0.85" font-family="Liberation Sans, sans-serif">PIK3C3</text>
<text x="373.9" y="1927.5" font-size="13.6" fill="#111" stroke="#111" stroke-width="0.3" font-family="Liberation Sans, sans-serif">PIK3C3</text>
<text x="211.1" y="1944.8" font-size="13.6" fill="#fff" stroke="#fff" stroke-width="3.2" stroke-opacity="0.85" font-family="Liberation Sans, sans-serif">VMP1</text>
<text x="211.1" y="1944.8" font-size="13.6" fill="#111" stroke="#111" stroke-width="0.3" font-family="Liberation Sans, sans-serif">VMP1</text>
<text x="741.6" y="1951.3" font-size="13.6" fill="#fff" stroke="#fff" stroke-width="3.2" stroke-opacity="0.85" font-family="Liberation Sans, sans-serif">CASP4</text>
<text x="741.6" y="1951.3" font-size="13.6" fill="#111" stroke="#111" stroke-width="0.3" font-family="Liberation Sans, sans-serif">CASP4</text>
<text x="581.1" y="1974.6" font-size="13.6" fill="#fff" stroke="#fff" stroke-width="3.2" stroke-opacity="0.85" font-family="Liberation Sans, sans-serif">HGS</text>
<text x="581.1" y="1974.6" font-size="13.6" fill="#111" stroke="#111" stroke-width="0.3" font-family="Liberation Sans, sans-serif">HGS</text>
<text x="273.1" y="2016.9" font-size="13.6" fill="#fff" stroke="#fff" stroke-width="3.2" stroke-opacity="0.85" font-family="Liberation Sans, sans-serif">ZFYVE1</text>
<text x="273.1" y="2016.9" font-size="13.6" fill="#111" stroke="#111" stroke-width="0.3" font-family="Liberation Sans, sans-serif">ZFYVE1</text>
<text x="431.8" y="2057.9" font-size="13.6" fill="#fff" stroke="#fff" stroke-width="3.2" stroke-opacity="0.85" font-family="Liberation Sans, sans-serif">BECN1</text>
<text x="431.8" y="2057.9" font-size="13.6" fill="#111" stroke="#111" stroke-width="0.3" font-family="Liberation Sans, sans-serif">BECN1</text>
<text x="683.1" y="2117.7" font-size="13.6" fill="#fff" stroke="#fff" stroke-width="3.2" stroke-opacity="0.85" font-family="Liberation Sans, sans-serif">EIF2AK3</text>
<text x="683.1" y="2117.7" font-size="13.6" fill="#111" stroke="#111" stroke-width="0.3" font-family="Liberation Sans, sans-serif">EIF2AK3</text>
<text x="166.6" y="2112.2" font-size="13.6" fill="#fff" stroke="#fff" stroke-width="3.2" stroke-opacity="0.85" font-family="Liberation Sans, sans-serif">GABARAPL2</text>
<text x="166.6" y="2112.2" font-size="13.6" fill="#111" stroke="#111" stroke-width="0.3" font-family="Liberation Sans, sans-serif">GABARAPL2</text>
<text x="325.6" y="2141.7" font-size="13.6" fill="#fff" stroke="#fff" stroke-width="3.2" stroke-opacity="0.85" font-family="Liberation Sans, sans-serif">ULK2</text>
<text x="325.6" y="2141.7" font-size="13.6" fill="#111" stroke="#111" stroke-width="0.3" font-family="Liberation Sans, sans-serif">ULK2</text>
<text x="233.3" y="2172.5" font-size="13.6" fill="#fff" stroke="#fff" stroke-width="3.2" stroke-opacity="0.85" font-family="Liberation Sans, sans-serif">UVRAG</text>
<text x="233.3" y="2172.5" font-size="13.6" fill="#111" stroke="#111" stroke-width="0.3" font-family="Liberation Sans, sans-serif">UVRAG</text>
<text x="598.7" y="2183.9" font-size="13.6" fill="#fff" stroke="#fff" stroke-width="3.2" stroke-opacity="0.85" font-family="Liberation Sans, sans-serif">VEGFA</text>
<text x="598.7" y="2183.9" font-size="13.6" fill="#111" stroke="#111" stroke-width="0.3" font-family="Liberation Sans, sans-serif">VEGFA</text>
<text x="787.9" y="2200.4" font-size="13.6" fill="#fff" stroke="#fff" stroke-width="3.2" stroke-opacity="0.85" font-family="Liberation Sans, sans-serif">EDEM1</text>
<text x="787.9" y="2200.4" font-size="13.6" fill="#111" stroke="#111" stroke-width="0.3" font-family="Liberation Sans, sans-serif">EDEM1</text>
<text x="412.6" y="2227.4" font-size="13.6" fill="#fff" stroke="#fff" stroke-width="3.2" stroke-opacity="0.85" font-family="Liberation Sans, sans-serif">BNIP3</text>
<text x="412.6" y="2227.4" font-size="13.6" fill="#111" stroke="#111" stroke-width="0.3" font-family="Liberation Sans, sans-serif">BNIP3</text>
<text x="290.1" y="2255.2" font-size="13.6" fill="#fff" stroke="#fff" stroke-width="3.2" stroke-opacity="0.85" font-family="Liberation Sans, sans-serif">CALCOCO2</text>
<text x="290.1" y="2255.2" font-size="13.6" fill="#111" stroke="#111" stroke-width="0.3" font-family="Liberation Sans, sans-serif">CALCOCO2</text>
<text x="533.0" y="2316.1" font-size="13.6" fill="#fff" stroke="#fff" stroke-width="3.2" stroke-opacity="0.85" font-family="Liberation Sans, sans-serif">CDKN1B</text>
<text x="533.0" y="2316.1" font-size="13.6" fill="#111" stroke="#111" stroke-width="0.3" font-family="Liberation Sans, sans-serif">CDKN1B</text>
</svg></body></html>
